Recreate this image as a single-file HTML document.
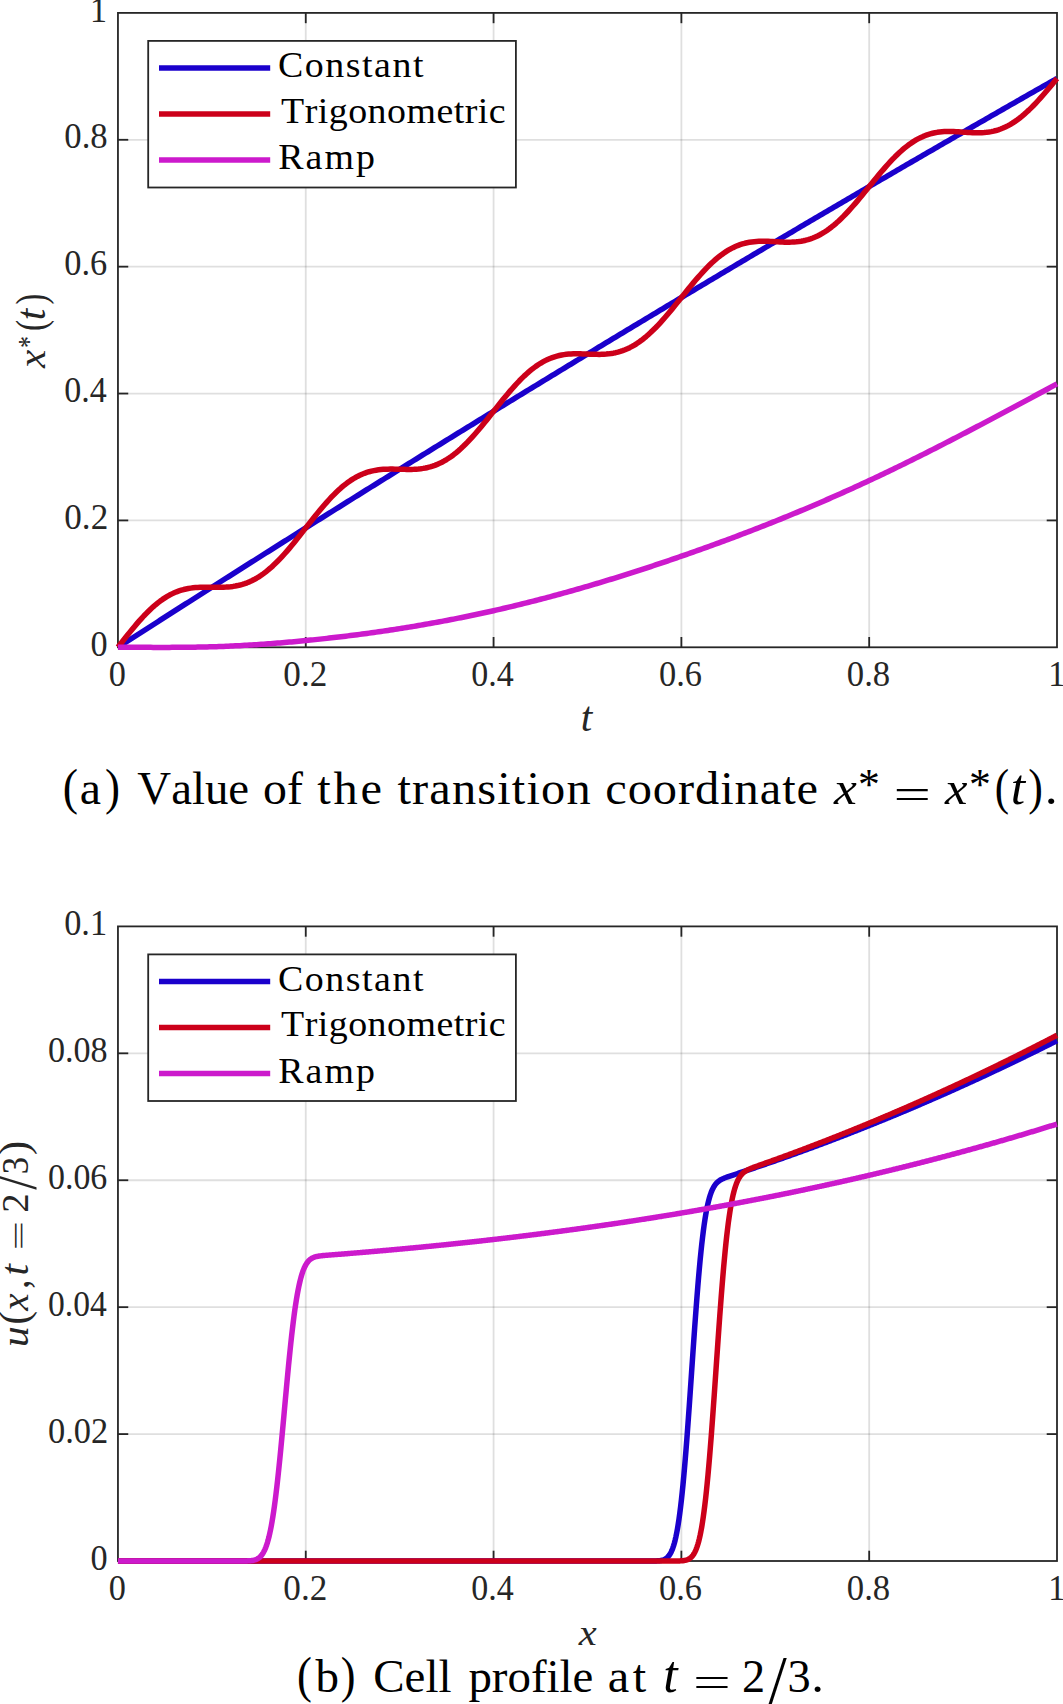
<!DOCTYPE html>
<html lang="en"><head><meta charset="utf-8"><title>Transition coordinate and cell profile</title>
<style>
html,body{margin:0;padding:0;background:#fff;}
body{width:1063px;height:1704px;overflow:hidden;}
svg{display:block;}
text{font-family:"Liberation Serif",serif;font-kerning:none;}
</style></head><body>
<svg width="1063" height="1704" viewBox="0 0 1063 1704">
<rect width="1063" height="1704" fill="#fff"/>

<g stroke="#262626" stroke-opacity="0.15" stroke-width="1.8" fill="none">
<line x1="305.76" y1="12.9" x2="305.76" y2="647.3"/>
<line x1="493.57" y1="12.9" x2="493.57" y2="647.3"/>
<line x1="681.38" y1="12.9" x2="681.38" y2="647.3"/>
<line x1="869.19" y1="12.9" x2="869.19" y2="647.3"/>
<line x1="117.95" y1="520.42" x2="1057.0" y2="520.42"/>
<line x1="117.95" y1="393.54" x2="1057.0" y2="393.54"/>
<line x1="117.95" y1="266.66" x2="1057.0" y2="266.66"/>
<line x1="117.95" y1="139.78" x2="1057.0" y2="139.78"/>
</g>
<g stroke="#262626" stroke-width="1.8" fill="none">
<rect x="117.95" y="12.9" width="939.05" height="634.40"/>
<line x1="305.76" y1="647.3" x2="305.76" y2="637.0"/>
<line x1="305.76" y1="12.9" x2="305.76" y2="23.200000000000003"/>
<line x1="117.95" y1="520.42" x2="128.25" y2="520.42"/>
<line x1="1057.0" y1="520.42" x2="1046.7" y2="520.42"/>
<line x1="493.57" y1="647.3" x2="493.57" y2="637.0"/>
<line x1="493.57" y1="12.9" x2="493.57" y2="23.200000000000003"/>
<line x1="117.95" y1="393.54" x2="128.25" y2="393.54"/>
<line x1="1057.0" y1="393.54" x2="1046.7" y2="393.54"/>
<line x1="681.38" y1="647.3" x2="681.38" y2="637.0"/>
<line x1="681.38" y1="12.9" x2="681.38" y2="23.200000000000003"/>
<line x1="117.95" y1="266.66" x2="128.25" y2="266.66"/>
<line x1="1057.0" y1="266.66" x2="1046.7" y2="266.66"/>
<line x1="869.19" y1="647.3" x2="869.19" y2="637.0"/>
<line x1="869.19" y1="12.9" x2="869.19" y2="23.200000000000003"/>
<line x1="117.95" y1="139.78" x2="128.25" y2="139.78"/>
<line x1="1057.0" y1="139.78" x2="1046.7" y2="139.78"/>
</g>
<g fill="none" stroke-width="5.5" stroke-linejoin="round">
<polyline stroke="#1a00cc" points="117.95,647.30 120.30,645.79 122.65,644.28 124.99,642.77 127.34,641.26 129.69,639.76 132.04,638.25 134.38,636.74 136.73,635.23 139.08,633.73 141.43,632.22 143.77,630.72 146.12,629.21 148.47,627.71 150.82,626.20 153.16,624.70 155.51,623.20 157.86,621.69 160.21,620.19 162.55,618.69 164.90,617.19 167.25,615.69 169.60,614.19 171.95,612.69 174.29,611.19 176.64,609.69 178.99,608.19 181.34,606.69 183.68,605.19 186.03,603.69 188.38,602.20 190.73,600.70 193.07,599.20 195.42,597.71 197.77,596.21 200.12,594.72 202.46,593.22 204.81,591.73 207.16,590.24 209.51,588.74 211.86,587.25 214.20,585.76 216.55,584.27 218.90,582.77 221.25,581.28 223.59,579.79 225.94,578.30 228.29,576.81 230.64,575.32 232.98,573.84 235.33,572.35 237.68,570.86 240.03,569.37 242.37,567.89 244.72,566.40 247.07,564.91 249.42,563.43 251.76,561.94 254.11,560.46 256.46,558.97 258.81,557.49 261.16,556.01 263.50,554.52 265.85,553.04 268.20,551.56 270.55,550.08 272.89,548.59 275.24,547.11 277.59,545.63 279.94,544.15 282.28,542.67 284.63,541.20 286.98,539.72 289.33,538.24 291.67,536.76 294.02,535.28 296.37,533.81 298.72,532.33 301.06,530.85 303.41,529.38 305.76,527.90 308.11,526.43 310.46,524.95 312.80,523.48 315.15,522.01 317.50,520.53 319.85,519.06 322.19,517.59 324.54,516.12 326.89,514.65 329.24,513.18 331.58,511.71 333.93,510.24 336.28,508.77 338.63,507.30 340.97,505.83 343.32,504.36 345.67,502.89 348.02,501.43 350.36,499.96 352.71,498.49 355.06,497.03 357.41,495.56 359.76,494.10 362.10,492.63 364.45,491.17 366.80,489.70 369.15,488.24 371.49,486.78 373.84,485.32 376.19,483.85 378.54,482.39 380.88,480.93 383.23,479.47 385.58,478.01 387.93,476.55 390.27,475.09 392.62,473.63 394.97,472.17 397.32,470.72 399.66,469.26 402.01,467.80 404.36,466.35 406.71,464.89 409.06,463.43 411.40,461.98 413.75,460.52 416.10,459.07 418.45,457.62 420.79,456.16 423.14,454.71 425.49,453.26 427.84,451.80 430.18,450.35 432.53,448.90 434.88,447.45 437.23,446.00 439.57,444.55 441.92,443.10 444.27,441.65 446.62,440.20 448.97,438.75 451.31,437.30 453.66,435.86 456.01,434.41 458.36,432.96 460.70,431.52 463.05,430.07 465.40,428.63 467.75,427.18 470.09,425.74 472.44,424.29 474.79,422.85 477.14,421.41 479.48,419.96 481.83,418.52 484.18,417.08 486.53,415.64 488.87,414.20 491.22,412.76 493.57,411.32 495.92,409.88 498.27,408.44 500.61,407.00 502.96,405.56 505.31,404.13 507.66,402.69 510.00,401.25 512.35,399.81 514.70,398.38 517.05,396.94 519.39,395.51 521.74,394.07 524.09,392.64 526.44,391.21 528.78,389.77 531.13,388.34 533.48,386.91 535.83,385.47 538.17,384.04 540.52,382.61 542.87,381.18 545.22,379.75 547.57,378.32 549.91,376.89 552.26,375.46 554.61,374.03 556.96,372.61 559.30,371.18 561.65,369.75 564.00,368.32 566.35,366.90 568.69,365.47 571.04,364.05 573.39,362.62 575.74,361.20 578.08,359.77 580.43,358.35 582.78,356.93 585.13,355.50 587.48,354.08 589.82,352.66 592.17,351.24 594.52,349.82 596.87,348.40 599.21,346.97 601.56,345.56 603.91,344.14 606.26,342.72 608.60,341.30 610.95,339.88 613.30,338.46 615.65,337.05 617.99,335.63 620.34,334.21 622.69,332.80 625.04,331.38 627.38,329.97 629.73,328.55 632.08,327.14 634.43,325.72 636.78,324.31 639.12,322.90 641.47,321.49 643.82,320.07 646.17,318.66 648.51,317.25 650.86,315.84 653.21,314.43 655.56,313.02 657.90,311.61 660.25,310.20 662.60,308.80 664.95,307.39 667.29,305.98 669.64,304.57 671.99,303.17 674.34,301.76 676.68,300.36 679.03,298.95 681.38,297.55 683.73,296.14 686.08,294.74 688.42,293.33 690.77,291.93 693.12,290.53 695.47,289.13 697.81,287.72 700.16,286.32 702.51,284.92 704.86,283.52 707.20,282.12 709.55,280.72 711.90,279.32 714.25,277.92 716.59,276.53 718.94,275.13 721.29,273.73 723.64,272.33 725.98,270.94 728.33,269.54 730.68,268.15 733.03,266.75 735.38,265.36 737.72,263.96 740.07,262.57 742.42,261.17 744.77,259.78 747.11,258.39 749.46,257.00 751.81,255.61 754.16,254.21 756.50,252.82 758.85,251.43 761.20,250.04 763.55,248.65 765.89,247.26 768.24,245.88 770.59,244.49 772.94,243.10 775.29,241.71 777.63,240.33 779.98,238.94 782.33,237.55 784.68,236.17 787.02,234.78 789.37,233.40 791.72,232.01 794.07,230.63 796.41,229.25 798.76,227.86 801.11,226.48 803.46,225.10 805.80,223.72 808.15,222.34 810.50,220.96 812.85,219.58 815.19,218.20 817.54,216.82 819.89,215.44 822.24,214.06 824.59,212.68 826.93,211.30 829.28,209.93 831.63,208.55 833.98,207.17 836.32,205.80 838.67,204.42 841.02,203.05 843.37,201.67 845.71,200.30 848.06,198.93 850.41,197.55 852.76,196.18 855.10,194.81 857.45,193.44 859.80,192.06 862.15,190.69 864.49,189.32 866.84,187.95 869.19,186.58 871.54,185.21 873.89,183.85 876.23,182.48 878.58,181.11 880.93,179.74 883.28,178.37 885.62,177.01 887.97,175.64 890.32,174.28 892.67,172.91 895.01,171.55 897.36,170.18 899.71,168.82 902.06,167.45 904.40,166.09 906.75,164.73 909.10,163.37 911.45,162.00 913.79,160.64 916.14,159.28 918.49,157.92 920.84,156.56 923.19,155.20 925.53,153.84 927.88,152.48 930.23,151.13 932.58,149.77 934.92,148.41 937.27,147.05 939.62,145.70 941.97,144.34 944.31,142.99 946.66,141.63 949.01,140.28 951.36,138.92 953.70,137.57 956.05,136.21 958.40,134.86 960.75,133.51 963.10,132.16 965.44,130.81 967.79,129.45 970.14,128.10 972.49,126.75 974.83,125.40 977.18,124.05 979.53,122.70 981.88,121.36 984.22,120.01 986.57,118.66 988.92,117.31 991.27,115.97 993.61,114.62 995.96,113.27 998.31,111.93 1000.66,110.58 1003.00,109.24 1005.35,107.89 1007.70,106.55 1010.05,105.21 1012.40,103.86 1014.74,102.52 1017.09,101.18 1019.44,99.84 1021.79,98.50 1024.13,97.16 1026.48,95.82 1028.83,94.48 1031.18,93.14 1033.52,91.80 1035.87,90.46 1038.22,89.12 1040.57,87.78 1042.91,86.45 1045.26,85.11 1047.61,83.77 1049.96,82.44 1052.30,81.10 1054.65,79.77 1057.00,78.43"/>
<polyline stroke="#cc001a" points="117.95,647.30 120.30,644.27 122.65,641.25 124.99,638.25 127.34,635.28 129.69,632.35 132.04,629.46 134.38,626.63 136.73,623.86 139.08,621.16 141.43,618.54 143.77,616.00 146.12,613.56 148.47,611.21 150.82,608.96 153.16,606.82 155.51,604.79 157.86,602.88 160.21,601.08 162.55,599.40 164.90,597.84 167.25,596.40 169.60,595.07 171.95,593.87 174.29,592.78 176.64,591.81 178.99,590.95 181.34,590.19 183.68,589.54 186.03,588.98 188.38,588.51 190.73,588.13 193.07,587.83 195.42,587.60 197.77,587.43 200.12,587.31 202.46,587.24 204.81,587.21 207.16,587.21 209.51,587.22 211.86,587.25 214.20,587.28 216.55,587.29 218.90,587.29 221.25,587.26 223.59,587.20 225.94,587.09 228.29,586.92 230.64,586.70 232.98,586.40 235.33,586.03 237.68,585.57 240.03,585.03 242.37,584.38 244.72,583.64 247.07,582.79 249.42,581.83 251.76,580.76 254.11,579.57 256.46,578.26 258.81,576.84 261.16,575.30 263.50,573.63 265.85,571.85 268.20,569.96 270.55,567.95 272.89,565.84 275.24,563.61 277.59,561.29 279.94,558.87 282.28,556.36 284.63,553.76 286.98,551.09 289.33,548.35 291.67,545.54 294.02,542.69 296.37,539.79 298.72,536.85 301.06,533.88 303.41,530.90 305.76,527.90 308.11,524.91 310.46,521.93 312.80,518.96 315.15,516.03 317.50,513.13 319.85,510.28 322.19,507.48 324.54,504.75 326.89,502.08 329.24,499.49 331.58,496.99 333.93,494.58 336.28,492.27 338.63,490.06 340.97,487.95 343.32,485.96 345.67,484.08 348.02,482.32 350.36,480.67 352.71,479.14 355.06,477.74 357.41,476.45 359.76,475.28 362.10,474.23 364.45,473.29 366.80,472.46 369.15,471.74 371.49,471.12 373.84,470.60 376.19,470.17 378.54,469.83 380.88,469.56 383.23,469.36 385.58,469.23 387.93,469.15 390.27,469.11 392.62,469.12 394.97,469.15 397.32,469.20 399.66,469.26 402.01,469.32 404.36,469.37 406.71,469.41 409.06,469.41 411.40,469.38 413.75,469.31 416.10,469.18 418.45,468.99 420.79,468.73 423.14,468.39 425.49,467.97 427.84,467.46 430.18,466.85 432.53,466.14 434.88,465.33 437.23,464.40 439.57,463.36 441.92,462.21 444.27,460.94 446.62,459.55 448.97,458.04 451.31,456.42 453.66,454.67 456.01,452.81 458.36,450.84 460.70,448.76 463.05,446.57 465.40,444.28 467.75,441.90 470.09,439.42 472.44,436.86 474.79,434.22 477.14,431.52 479.48,428.75 481.83,425.93 484.18,423.06 486.53,420.16 488.87,417.23 491.22,414.28 493.57,411.32 495.92,408.36 498.27,405.41 500.61,402.48 502.96,399.58 505.31,396.72 507.66,393.90 510.00,391.14 512.35,388.44 514.70,385.81 517.05,383.26 519.39,380.79 521.74,378.42 524.09,376.14 526.44,373.96 528.78,371.90 531.13,369.94 533.48,368.09 535.83,366.36 538.17,364.75 540.52,363.26 542.87,361.89 545.22,360.64 547.57,359.51 549.91,358.49 552.26,357.59 554.61,356.79 556.96,356.11 559.30,355.52 561.65,355.04 564.00,354.64 566.35,354.33 568.69,354.10 571.04,353.94 573.39,353.84 575.74,353.79 578.08,353.79 580.43,353.83 582.78,353.90 585.13,353.98 587.48,354.08 589.82,354.18 592.17,354.26 594.52,354.33 596.87,354.37 599.21,354.38 601.56,354.34 603.91,354.25 606.26,354.09 608.60,353.86 610.95,353.56 613.30,353.18 615.65,352.70 617.99,352.13 620.34,351.45 622.69,350.67 625.04,349.78 627.38,348.78 629.73,347.66 632.08,346.43 634.43,345.07 636.78,343.60 639.12,342.01 641.47,340.30 643.82,338.48 646.17,336.54 648.51,334.49 650.86,332.34 653.21,330.09 655.56,327.74 657.90,325.29 660.25,322.77 662.60,320.17 664.95,317.50 667.29,314.76 669.64,311.98 671.99,309.15 674.34,306.28 676.68,303.38 679.03,300.47 681.38,297.55 683.73,294.62 686.08,291.71 688.42,288.82 690.77,285.95 693.12,283.12 695.47,280.34 697.81,277.61 700.16,274.95 702.51,272.36 704.86,269.84 707.20,267.41 709.55,265.07 711.90,262.82 714.25,260.68 716.59,258.65 718.94,256.73 721.29,254.92 723.64,253.22 725.98,251.65 728.33,250.19 730.68,248.86 733.03,247.64 735.38,246.54 737.72,245.56 740.07,244.69 742.42,243.93 744.77,243.28 747.11,242.73 749.46,242.28 751.81,241.92 754.16,241.65 756.50,241.45 758.85,241.32 761.20,241.26 763.55,241.25 765.89,241.29 768.24,241.36 770.59,241.46 772.94,241.58 775.29,241.71 777.63,241.84 779.98,241.97 782.33,242.07 784.68,242.15 787.02,242.19 789.37,242.18 791.72,242.12 794.07,242.00 796.41,241.81 798.76,241.55 801.11,241.20 803.46,240.75 805.80,240.22 808.15,239.58 810.50,238.83 812.85,237.98 815.19,237.01 817.54,235.93 819.89,234.73 822.24,233.41 824.59,231.97 826.93,230.42 829.28,228.74 831.63,226.95 833.98,225.05 836.32,223.04 838.67,220.92 841.02,218.70 843.37,216.39 845.71,213.98 848.06,211.49 850.41,208.93 852.76,206.29 855.10,203.59 857.45,200.84 859.80,198.04 862.15,195.21 864.49,192.35 866.84,189.47 869.19,186.58 871.54,183.70 873.89,180.82 876.23,177.96 878.58,175.13 880.93,172.34 883.28,169.59 885.62,166.90 887.97,164.27 890.32,161.71 892.67,159.23 895.01,156.83 897.36,154.53 899.71,152.32 902.06,150.21 904.40,148.21 906.75,146.33 909.10,144.55 911.45,142.89 913.79,141.35 916.14,139.93 918.49,138.63 920.84,137.45 923.19,136.39 925.53,135.44 927.88,134.61 930.23,133.89 932.58,133.27 934.92,132.76 937.27,132.34 939.62,132.02 941.97,131.78 944.31,131.61 946.66,131.52 949.01,131.49 951.36,131.52 953.70,131.59 956.05,131.70 958.40,131.83 960.75,131.99 963.10,132.16 965.44,132.32 967.79,132.48 970.14,132.62 972.49,132.73 974.83,132.81 977.18,132.84 979.53,132.81 981.88,132.73 984.22,132.57 986.57,132.34 988.92,132.03 991.27,131.62 993.61,131.12 995.96,130.51 998.31,129.80 1000.66,128.99 1003.00,128.05 1005.35,127.01 1007.70,125.84 1010.05,124.56 1012.40,123.15 1014.74,121.63 1017.09,119.99 1019.44,118.24 1021.79,116.37 1024.13,114.40 1026.48,112.31 1028.83,110.13 1031.18,107.85 1033.52,105.48 1035.87,103.03 1038.22,100.50 1040.57,97.89 1042.91,95.23 1045.26,92.52 1047.61,89.75 1049.96,86.96 1052.30,84.13 1054.65,81.29 1057.00,78.43"/>
<polyline stroke="#cc1acc" points="117.95,647.30 120.30,647.30 122.65,647.30 124.99,647.31 127.34,647.31 129.69,647.32 132.04,647.32 134.38,647.33 136.73,647.33 139.08,647.34 141.43,647.35 143.77,647.36 146.12,647.36 148.47,647.37 150.82,647.37 153.16,647.38 155.51,647.38 157.86,647.39 160.21,647.39 162.55,647.39 164.90,647.39 167.25,647.38 169.60,647.38 171.95,647.37 174.29,647.36 176.64,647.35 178.99,647.34 181.34,647.32 183.68,647.30 186.03,647.28 188.38,647.26 190.73,647.23 193.07,647.20 195.42,647.16 197.77,647.12 200.12,647.08 202.46,647.03 204.81,646.98 207.16,646.92 209.51,646.86 211.86,646.79 214.20,646.72 216.55,646.65 218.90,646.57 221.25,646.48 223.59,646.39 225.94,646.30 228.29,646.20 230.64,646.09 232.98,645.98 235.33,645.87 237.68,645.75 240.03,645.63 242.37,645.50 244.72,645.37 247.07,645.24 249.42,645.10 251.76,644.95 254.11,644.81 256.46,644.65 258.81,644.50 261.16,644.34 263.50,644.17 265.85,644.00 268.20,643.83 270.55,643.66 272.89,643.48 275.24,643.29 277.59,643.10 279.94,642.91 282.28,642.72 284.63,642.52 286.98,642.32 289.33,642.11 291.67,641.90 294.02,641.69 296.37,641.47 298.72,641.25 301.06,641.03 303.41,640.80 305.76,640.58 308.11,640.34 310.46,640.11 312.80,639.87 315.15,639.63 317.50,639.38 319.85,639.13 322.19,638.88 324.54,638.62 326.89,638.36 329.24,638.10 331.58,637.84 333.93,637.57 336.28,637.30 338.63,637.02 340.97,636.74 343.32,636.46 345.67,636.17 348.02,635.88 350.36,635.59 352.71,635.29 355.06,634.99 357.41,634.69 359.76,634.38 362.10,634.07 364.45,633.76 366.80,633.44 369.15,633.12 371.49,632.80 373.84,632.47 376.19,632.14 378.54,631.80 380.88,631.46 383.23,631.12 385.58,630.78 387.93,630.43 390.27,630.07 392.62,629.72 394.97,629.36 397.32,628.99 399.66,628.62 402.01,628.25 404.36,627.88 406.71,627.50 409.06,627.11 411.40,626.73 413.75,626.34 416.10,625.94 418.45,625.54 420.79,625.14 423.14,624.73 425.49,624.32 427.84,623.91 430.18,623.49 432.53,623.07 434.88,622.65 437.23,622.22 439.57,621.78 441.92,621.35 444.27,620.90 446.62,620.46 448.97,620.01 451.31,619.56 453.66,619.10 456.01,618.64 458.36,618.17 460.70,617.70 463.05,617.23 465.40,616.75 467.75,616.27 470.09,615.78 472.44,615.29 474.79,614.80 477.14,614.30 479.48,613.80 481.83,613.29 484.18,612.78 486.53,612.27 488.87,611.75 491.22,611.22 493.57,610.70 495.92,610.16 498.27,609.63 500.61,609.09 502.96,608.54 505.31,607.99 507.66,607.44 510.00,606.88 512.35,606.32 514.70,605.76 517.05,605.19 519.39,604.61 521.74,604.03 524.09,603.45 526.44,602.87 528.78,602.28 531.13,601.68 533.48,601.09 535.83,600.48 538.17,599.88 540.52,599.27 542.87,598.66 545.22,598.04 547.57,597.42 549.91,596.79 552.26,596.16 554.61,595.53 556.96,594.89 559.30,594.25 561.65,593.61 564.00,592.96 566.35,592.31 568.69,591.66 571.04,591.00 573.39,590.33 575.74,589.67 578.08,589.00 580.43,588.32 582.78,587.65 585.13,586.97 587.48,586.28 589.82,585.60 592.17,584.90 594.52,584.21 596.87,583.51 599.21,582.81 601.56,582.10 603.91,581.40 606.26,580.68 608.60,579.97 610.95,579.25 613.30,578.53 615.65,577.80 617.99,577.07 620.34,576.34 622.69,575.61 625.04,574.87 627.38,574.12 629.73,573.38 632.08,572.63 634.43,571.88 636.78,571.12 639.12,570.37 641.47,569.60 643.82,568.84 646.17,568.07 648.51,567.30 650.86,566.53 653.21,565.75 655.56,564.97 657.90,564.19 660.25,563.40 662.60,562.62 664.95,561.82 667.29,561.03 669.64,560.23 671.99,559.43 674.34,558.63 676.68,557.82 679.03,557.01 681.38,556.20 683.73,555.39 686.08,554.57 688.42,553.75 690.77,552.92 693.12,552.10 695.47,551.27 697.81,550.44 700.16,549.60 702.51,548.76 704.86,547.92 707.20,547.08 709.55,546.23 711.90,545.38 714.25,544.53 716.59,543.67 718.94,542.81 721.29,541.95 723.64,541.08 725.98,540.21 728.33,539.34 730.68,538.47 733.03,537.59 735.38,536.71 737.72,535.82 740.07,534.93 742.42,534.04 744.77,533.15 747.11,532.25 749.46,531.35 751.81,530.45 754.16,529.54 756.50,528.63 758.85,527.71 761.20,526.79 763.55,525.87 765.89,524.95 768.24,524.02 770.59,523.09 772.94,522.15 775.29,521.21 777.63,520.27 779.98,519.33 782.33,518.38 784.68,517.42 787.02,516.47 789.37,515.51 791.72,514.54 794.07,513.57 796.41,512.60 798.76,511.63 801.11,510.65 803.46,509.67 805.80,508.68 808.15,507.69 810.50,506.70 812.85,505.70 815.19,504.70 817.54,503.69 819.89,502.69 822.24,501.67 824.59,500.66 826.93,499.64 829.28,498.61 831.63,497.58 833.98,496.55 836.32,495.51 838.67,494.47 841.02,493.43 843.37,492.38 845.71,491.33 848.06,490.27 850.41,489.21 852.76,488.15 855.10,487.08 857.45,486.01 859.80,484.93 862.15,483.85 864.49,482.76 866.84,481.67 869.19,480.58 871.54,479.48 873.89,478.38 876.23,477.27 878.58,476.16 880.93,475.05 883.28,473.93 885.62,472.81 887.97,471.68 890.32,470.55 892.67,469.42 895.01,468.28 897.36,467.14 899.71,466.00 902.06,464.85 904.40,463.70 906.75,462.54 909.10,461.38 911.45,460.22 913.79,459.06 916.14,457.89 918.49,456.72 920.84,455.54 923.19,454.37 925.53,453.19 927.88,452.00 930.23,450.82 932.58,449.63 934.92,448.43 937.27,447.24 939.62,446.04 941.97,444.84 944.31,443.64 946.66,442.43 949.01,441.23 951.36,440.02 953.70,438.80 956.05,437.59 958.40,436.37 960.75,435.15 963.10,433.93 965.44,432.71 967.79,431.48 970.14,430.25 972.49,429.02 974.83,427.79 977.18,426.56 979.53,425.32 981.88,424.09 984.22,422.85 986.57,421.61 988.92,420.36 991.27,419.12 993.61,417.88 995.96,416.63 998.31,415.38 1000.66,414.13 1003.00,412.88 1005.35,411.63 1007.70,410.38 1010.05,409.13 1012.40,407.87 1014.74,406.61 1017.09,405.36 1019.44,404.10 1021.79,402.84 1024.13,401.58 1026.48,400.32 1028.83,399.06 1031.18,397.80 1033.52,396.54 1035.87,395.27 1038.22,394.01 1040.57,392.75 1042.91,391.48 1045.26,390.22 1047.61,388.96 1049.96,387.69 1052.30,386.43 1054.65,385.16 1057.00,383.90"/>
</g>
<rect x="148.2" y="40.90" width="367.70" height="146.6" fill="#fff" stroke="#262626" stroke-width="1.8"/>
<line x1="159" y1="68.10" x2="270.2" y2="68.10" stroke="#1a00cc" stroke-width="5.5"/>
<line x1="159" y1="113.95" x2="270.2" y2="113.95" stroke="#cc001a" stroke-width="5.5"/>
<line x1="159" y1="160.00" x2="270.2" y2="160.00" stroke="#cc1acc" stroke-width="5.5"/>
<g stroke="#262626" stroke-opacity="0.15" stroke-width="1.8" fill="none">
<line x1="305.76" y1="926.4" x2="305.76" y2="1561.0"/>
<line x1="493.57" y1="926.4" x2="493.57" y2="1561.0"/>
<line x1="681.38" y1="926.4" x2="681.38" y2="1561.0"/>
<line x1="869.19" y1="926.4" x2="869.19" y2="1561.0"/>
<line x1="117.95" y1="1434.08" x2="1057.0" y2="1434.08"/>
<line x1="117.95" y1="1307.16" x2="1057.0" y2="1307.16"/>
<line x1="117.95" y1="1180.24" x2="1057.0" y2="1180.24"/>
<line x1="117.95" y1="1053.32" x2="1057.0" y2="1053.32"/>
</g>
<g stroke="#262626" stroke-width="1.8" fill="none">
<rect x="117.95" y="926.4" width="939.05" height="634.60"/>
<line x1="305.76" y1="1561.0" x2="305.76" y2="1550.7"/>
<line x1="305.76" y1="926.4" x2="305.76" y2="936.6999999999999"/>
<line x1="117.95" y1="1434.08" x2="128.25" y2="1434.08"/>
<line x1="1057.0" y1="1434.08" x2="1046.7" y2="1434.08"/>
<line x1="493.57" y1="1561.0" x2="493.57" y2="1550.7"/>
<line x1="493.57" y1="926.4" x2="493.57" y2="936.6999999999999"/>
<line x1="117.95" y1="1307.16" x2="128.25" y2="1307.16"/>
<line x1="1057.0" y1="1307.16" x2="1046.7" y2="1307.16"/>
<line x1="681.38" y1="1561.0" x2="681.38" y2="1550.7"/>
<line x1="681.38" y1="926.4" x2="681.38" y2="936.6999999999999"/>
<line x1="117.95" y1="1180.24" x2="128.25" y2="1180.24"/>
<line x1="1057.0" y1="1180.24" x2="1046.7" y2="1180.24"/>
<line x1="869.19" y1="1561.0" x2="869.19" y2="1550.7"/>
<line x1="869.19" y1="926.4" x2="869.19" y2="936.6999999999999"/>
<line x1="117.95" y1="1053.32" x2="128.25" y2="1053.32"/>
<line x1="1057.0" y1="1053.32" x2="1046.7" y2="1053.32"/>
</g>
<g fill="none" stroke-width="5.5" stroke-linejoin="round">
<polyline stroke="#1a00cc" points="117.95,1561.00 118.73,1561.00 119.52,1561.00 120.30,1561.00 121.08,1561.00 121.86,1561.00 122.65,1561.00 123.43,1561.00 124.21,1561.00 124.99,1561.00 125.78,1561.00 126.56,1561.00 127.34,1561.00 128.12,1561.00 128.91,1561.00 129.69,1561.00 130.47,1561.00 131.25,1561.00 132.04,1561.00 132.82,1561.00 133.60,1561.00 134.38,1561.00 135.17,1561.00 135.95,1561.00 136.73,1561.00 137.51,1561.00 138.30,1561.00 139.08,1561.00 139.86,1561.00 140.64,1561.00 141.43,1561.00 142.21,1561.00 142.99,1561.00 143.77,1561.00 144.56,1561.00 145.34,1561.00 146.12,1561.00 146.90,1561.00 147.69,1561.00 148.47,1561.00 149.25,1561.00 150.03,1561.00 150.82,1561.00 151.60,1561.00 152.38,1561.00 153.16,1561.00 153.95,1561.00 154.73,1561.00 155.51,1561.00 156.29,1561.00 157.08,1561.00 157.86,1561.00 158.64,1561.00 159.42,1561.00 160.21,1561.00 160.99,1561.00 161.77,1561.00 162.55,1561.00 163.34,1561.00 164.12,1561.00 164.90,1561.00 165.69,1561.00 166.47,1561.00 167.25,1561.00 168.03,1561.00 168.82,1561.00 169.60,1561.00 170.38,1561.00 171.16,1561.00 171.95,1561.00 172.73,1561.00 173.51,1561.00 174.29,1561.00 175.08,1561.00 175.86,1561.00 176.64,1561.00 177.42,1561.00 178.21,1561.00 178.99,1561.00 179.77,1561.00 180.55,1561.00 181.34,1561.00 182.12,1561.00 182.90,1561.00 183.68,1561.00 184.47,1561.00 185.25,1561.00 186.03,1561.00 186.81,1561.00 187.60,1561.00 188.38,1561.00 189.16,1561.00 189.94,1561.00 190.73,1561.00 191.51,1561.00 192.29,1561.00 193.07,1561.00 193.86,1561.00 194.64,1561.00 195.42,1561.00 196.20,1561.00 196.99,1561.00 197.77,1561.00 198.55,1561.00 199.33,1561.00 200.12,1561.00 200.90,1561.00 201.68,1561.00 202.46,1561.00 203.25,1561.00 204.03,1561.00 204.81,1561.00 205.59,1561.00 206.38,1561.00 207.16,1561.00 207.94,1561.00 208.72,1561.00 209.51,1561.00 210.29,1561.00 211.07,1561.00 211.86,1561.00 212.64,1561.00 213.42,1561.00 214.20,1561.00 214.99,1561.00 215.77,1561.00 216.55,1561.00 217.33,1561.00 218.12,1561.00 218.90,1561.00 219.68,1561.00 220.46,1561.00 221.25,1561.00 222.03,1561.00 222.81,1561.00 223.59,1561.00 224.38,1561.00 225.16,1561.00 225.94,1561.00 226.72,1561.00 227.51,1561.00 228.29,1561.00 229.07,1561.00 229.85,1561.00 230.64,1561.00 231.42,1561.00 232.20,1561.00 232.98,1561.00 233.77,1561.00 234.55,1561.00 235.33,1561.00 236.11,1561.00 236.90,1561.00 237.68,1561.00 238.46,1561.00 239.24,1561.00 240.03,1561.00 240.81,1561.00 241.59,1561.00 242.37,1561.00 243.16,1561.00 243.94,1561.00 244.72,1561.00 245.50,1561.00 246.29,1561.00 247.07,1561.00 247.85,1561.00 248.63,1561.00 249.42,1561.00 250.20,1561.00 250.98,1561.00 251.76,1561.00 252.55,1561.00 253.33,1561.00 254.11,1561.00 254.89,1561.00 255.68,1561.00 256.46,1561.00 257.24,1561.00 258.02,1561.00 258.81,1561.00 259.59,1561.00 260.37,1561.00 261.16,1561.00 261.94,1561.00 262.72,1561.00 263.50,1561.00 264.29,1561.00 265.07,1561.00 265.85,1561.00 266.63,1561.00 267.42,1561.00 268.20,1561.00 268.98,1561.00 269.76,1561.00 270.55,1561.00 271.33,1561.00 272.11,1561.00 272.89,1561.00 273.68,1561.00 274.46,1561.00 275.24,1561.00 276.02,1561.00 276.81,1561.00 277.59,1561.00 278.37,1561.00 279.15,1561.00 279.94,1561.00 280.72,1561.00 281.50,1561.00 282.28,1561.00 283.07,1561.00 283.85,1561.00 284.63,1561.00 285.41,1561.00 286.20,1561.00 286.98,1561.00 287.76,1561.00 288.54,1561.00 289.33,1561.00 290.11,1561.00 290.89,1561.00 291.67,1561.00 292.46,1561.00 293.24,1561.00 294.02,1561.00 294.80,1561.00 295.59,1561.00 296.37,1561.00 297.15,1561.00 297.93,1561.00 298.72,1561.00 299.50,1561.00 300.28,1561.00 301.06,1561.00 301.85,1561.00 302.63,1561.00 303.41,1561.00 304.19,1561.00 304.98,1561.00 305.76,1561.00 306.54,1561.00 307.33,1561.00 308.11,1561.00 308.89,1561.00 309.67,1561.00 310.46,1561.00 311.24,1561.00 312.02,1561.00 312.80,1561.00 313.59,1561.00 314.37,1561.00 315.15,1561.00 315.93,1561.00 316.72,1561.00 317.50,1561.00 318.28,1561.00 319.06,1561.00 319.85,1561.00 320.63,1561.00 321.41,1561.00 322.19,1561.00 322.98,1561.00 323.76,1561.00 324.54,1561.00 325.32,1561.00 326.11,1561.00 326.89,1561.00 327.67,1561.00 328.45,1561.00 329.24,1561.00 330.02,1561.00 330.80,1561.00 331.58,1561.00 332.37,1561.00 333.15,1561.00 333.93,1561.00 334.71,1561.00 335.50,1561.00 336.28,1561.00 337.06,1561.00 337.84,1561.00 338.63,1561.00 339.41,1561.00 340.19,1561.00 340.97,1561.00 341.76,1561.00 342.54,1561.00 343.32,1561.00 344.10,1561.00 344.89,1561.00 345.67,1561.00 346.45,1561.00 347.23,1561.00 348.02,1561.00 348.80,1561.00 349.58,1561.00 350.36,1561.00 351.15,1561.00 351.93,1561.00 352.71,1561.00 353.50,1561.00 354.28,1561.00 355.06,1561.00 355.84,1561.00 356.63,1561.00 357.41,1561.00 358.19,1561.00 358.97,1561.00 359.76,1561.00 360.54,1561.00 361.32,1561.00 362.10,1561.00 362.89,1561.00 363.67,1561.00 364.45,1561.00 365.23,1561.00 366.02,1561.00 366.80,1561.00 367.58,1561.00 368.36,1561.00 369.15,1561.00 369.93,1561.00 370.71,1561.00 371.49,1561.00 372.28,1561.00 373.06,1561.00 373.84,1561.00 374.62,1561.00 375.41,1561.00 376.19,1561.00 376.97,1561.00 377.75,1561.00 378.54,1561.00 379.32,1561.00 380.10,1561.00 380.88,1561.00 381.67,1561.00 382.45,1561.00 383.23,1561.00 384.01,1561.00 384.80,1561.00 385.58,1561.00 386.36,1561.00 387.14,1561.00 387.93,1561.00 388.71,1561.00 389.49,1561.00 390.27,1561.00 391.06,1561.00 391.84,1561.00 392.62,1561.00 393.40,1561.00 394.19,1561.00 394.97,1561.00 395.75,1561.00 396.53,1561.00 397.32,1561.00 398.10,1561.00 398.88,1561.00 399.67,1561.00 400.45,1561.00 401.23,1561.00 402.01,1561.00 402.80,1561.00 403.58,1561.00 404.36,1561.00 405.14,1561.00 405.93,1561.00 406.71,1561.00 407.49,1561.00 408.27,1561.00 409.06,1561.00 409.84,1561.00 410.62,1561.00 411.40,1561.00 412.19,1561.00 412.97,1561.00 413.75,1561.00 414.53,1561.00 415.32,1561.00 416.10,1561.00 416.88,1561.00 417.66,1561.00 418.45,1561.00 419.23,1561.00 420.01,1561.00 420.79,1561.00 421.58,1561.00 422.36,1561.00 423.14,1561.00 423.92,1561.00 424.71,1561.00 425.49,1561.00 426.27,1561.00 427.05,1561.00 427.84,1561.00 428.62,1561.00 429.40,1561.00 430.18,1561.00 430.97,1561.00 431.75,1561.00 432.53,1561.00 433.31,1561.00 434.10,1561.00 434.88,1561.00 435.66,1561.00 436.44,1561.00 437.23,1561.00 438.01,1561.00 438.79,1561.00 439.57,1561.00 440.36,1561.00 441.14,1561.00 441.92,1561.00 442.70,1561.00 443.49,1561.00 444.27,1561.00 445.05,1561.00 445.83,1561.00 446.62,1561.00 447.40,1561.00 448.18,1561.00 448.97,1561.00 449.75,1561.00 450.53,1561.00 451.31,1561.00 452.10,1561.00 452.88,1561.00 453.66,1561.00 454.44,1561.00 455.23,1561.00 456.01,1561.00 456.79,1561.00 457.57,1561.00 458.36,1561.00 459.14,1561.00 459.92,1561.00 460.70,1561.00 461.49,1561.00 462.27,1561.00 463.05,1561.00 463.83,1561.00 464.62,1561.00 465.40,1561.00 466.18,1561.00 466.96,1561.00 467.75,1561.00 468.53,1561.00 469.31,1561.00 470.09,1561.00 470.88,1561.00 471.66,1561.00 472.44,1561.00 473.22,1561.00 474.01,1561.00 474.79,1561.00 475.57,1561.00 476.35,1561.00 477.14,1561.00 477.92,1561.00 478.70,1561.00 479.48,1561.00 480.27,1561.00 481.05,1561.00 481.83,1561.00 482.61,1561.00 483.40,1561.00 484.18,1561.00 484.96,1561.00 485.74,1561.00 486.53,1561.00 487.31,1561.00 488.09,1561.00 488.87,1561.00 489.66,1561.00 490.44,1561.00 491.22,1561.00 492.00,1561.00 492.79,1561.00 493.57,1561.00 494.35,1561.00 495.14,1561.00 495.92,1561.00 496.70,1561.00 497.48,1561.00 498.27,1561.00 499.05,1561.00 499.83,1561.00 500.61,1561.00 501.40,1561.00 502.18,1561.00 502.96,1561.00 503.74,1561.00 504.53,1561.00 505.31,1561.00 506.09,1561.00 506.87,1561.00 507.66,1561.00 508.44,1561.00 509.22,1561.00 510.00,1561.00 510.79,1561.00 511.57,1561.00 512.35,1561.00 513.13,1561.00 513.92,1561.00 514.70,1561.00 515.48,1561.00 516.26,1561.00 517.05,1561.00 517.83,1561.00 518.61,1561.00 519.39,1561.00 520.18,1561.00 520.96,1561.00 521.74,1561.00 522.52,1561.00 523.31,1561.00 524.09,1561.00 524.87,1561.00 525.65,1561.00 526.44,1561.00 527.22,1561.00 528.00,1561.00 528.78,1561.00 529.57,1561.00 530.35,1561.00 531.13,1561.00 531.91,1561.00 532.70,1561.00 533.48,1561.00 534.26,1561.00 535.04,1561.00 535.83,1561.00 536.61,1561.00 537.39,1561.00 538.17,1561.00 538.96,1561.00 539.74,1561.00 540.52,1561.00 541.31,1561.00 542.09,1561.00 542.87,1561.00 543.65,1561.00 544.44,1561.00 545.22,1561.00 546.00,1561.00 546.78,1561.00 547.57,1561.00 548.35,1561.00 549.13,1561.00 549.91,1561.00 550.70,1561.00 551.48,1561.00 552.26,1561.00 553.04,1561.00 553.83,1561.00 554.61,1561.00 555.39,1561.00 556.17,1561.00 556.96,1561.00 557.74,1561.00 558.52,1561.00 559.30,1561.00 560.09,1561.00 560.87,1561.00 561.65,1561.00 562.43,1561.00 563.22,1561.00 564.00,1561.00 564.78,1561.00 565.56,1561.00 566.35,1561.00 567.13,1561.00 567.91,1561.00 568.69,1561.00 569.48,1561.00 570.26,1561.00 571.04,1561.00 571.82,1561.00 572.61,1561.00 573.39,1561.00 574.17,1561.00 574.95,1561.00 575.74,1561.00 576.52,1561.00 577.30,1561.00 578.08,1561.00 578.87,1561.00 579.65,1561.00 580.43,1561.00 581.21,1561.00 582.00,1561.00 582.78,1561.00 583.56,1561.00 584.34,1561.00 585.13,1561.00 585.91,1561.00 586.69,1561.00 587.48,1561.00 588.26,1561.00 589.04,1561.00 589.82,1561.00 590.61,1561.00 591.39,1561.00 592.17,1561.00 592.95,1561.00 593.74,1561.00 594.52,1561.00 595.30,1561.00 596.08,1561.00 596.87,1561.00 597.65,1561.00 598.43,1561.00 599.21,1561.00 600.00,1561.00 600.78,1561.00 601.56,1561.00 602.34,1561.00 603.13,1561.00 603.91,1561.00 604.69,1561.00 605.47,1561.00 606.26,1561.00 607.04,1561.00 607.82,1561.00 608.60,1561.00 609.39,1561.00 610.17,1561.00 610.95,1561.00 611.73,1561.00 612.52,1561.00 613.30,1561.00 614.08,1561.00 614.86,1561.00 615.65,1561.00 616.43,1561.00 617.21,1561.00 617.99,1561.00 618.78,1561.00 619.56,1561.00 620.34,1561.00 621.12,1561.00 621.91,1561.00 622.69,1561.00 623.47,1561.00 624.25,1561.00 625.04,1561.00 625.82,1561.00 626.60,1561.00 627.38,1561.00 628.17,1561.00 628.95,1561.00 629.73,1561.00 630.51,1561.00 631.30,1561.00 632.08,1561.00 632.86,1561.00 633.64,1561.00 634.43,1561.00 635.21,1561.00 635.99,1561.00 636.78,1561.00 637.56,1561.00 638.34,1561.00 639.12,1561.00 639.91,1561.00 640.69,1561.00 641.47,1561.00 642.25,1561.00 643.04,1561.00 643.82,1561.00 644.60,1561.00 645.38,1561.00 646.17,1561.00 646.95,1561.00 647.73,1561.00 648.51,1560.99 649.30,1560.99 650.08,1560.99 650.86,1560.99 651.64,1560.98 652.43,1560.97 653.21,1560.96 653.99,1560.95 654.77,1560.93 655.56,1560.91 656.34,1560.88 657.12,1560.84 657.90,1560.80 658.69,1560.73 659.47,1560.65 660.25,1560.55 661.03,1560.43 661.82,1560.27 662.60,1560.07 663.38,1559.83 664.16,1559.53 664.95,1559.16 665.73,1558.71 666.51,1558.17 667.29,1557.52 668.08,1556.74 668.86,1555.81 669.64,1554.72 670.42,1553.43 671.21,1551.93 671.99,1550.18 672.77,1548.16 673.55,1545.84 674.34,1543.20 675.12,1540.19 675.90,1536.80 676.68,1532.99 677.47,1528.74 678.25,1524.03 679.03,1518.83 679.81,1513.12 680.60,1506.90 681.38,1500.16 682.16,1492.89 682.95,1485.10 683.73,1476.80 684.51,1468.01 685.29,1458.75 686.08,1449.05 686.86,1438.94 687.64,1428.48 688.42,1417.71 689.21,1406.69 689.99,1395.48 690.77,1384.13 691.55,1372.71 692.34,1361.29 693.12,1349.92 693.90,1338.69 694.68,1327.64 695.47,1316.83 696.25,1306.33 697.03,1296.17 697.81,1286.41 698.60,1277.07 699.38,1268.20 700.16,1259.81 700.94,1251.92 701.73,1244.54 702.51,1237.69 703.29,1231.34 704.07,1225.50 704.86,1220.16 705.64,1215.29 706.42,1210.88 707.20,1206.91 707.99,1203.34 708.77,1200.15 709.55,1197.32 710.33,1194.80 711.12,1192.58 711.90,1190.63 712.68,1188.91 713.46,1187.41 714.25,1186.09 715.03,1184.94 715.81,1183.93 716.59,1183.05 717.38,1182.27 718.16,1181.59 718.94,1180.98 719.72,1180.44 720.51,1179.95 721.29,1179.51 722.07,1179.11 722.85,1178.74 723.64,1178.39 724.42,1178.06 725.20,1177.75 725.98,1177.45 726.77,1177.16 727.55,1176.88 728.33,1176.61 729.12,1176.34 729.90,1176.08 730.68,1175.81 731.46,1175.55 732.25,1175.29 733.03,1175.03 733.81,1174.78 734.59,1174.52 735.38,1174.26 736.16,1174.01 736.94,1173.75 737.72,1173.49 738.51,1173.24 739.29,1172.98 740.07,1172.72 740.85,1172.46 741.64,1172.20 742.42,1171.95 743.20,1171.69 743.98,1171.43 744.77,1171.17 745.55,1170.91 746.33,1170.65 747.11,1170.39 747.90,1170.13 748.68,1169.87 749.46,1169.60 750.24,1169.34 751.03,1169.08 751.81,1168.82 752.59,1168.56 753.37,1168.29 754.16,1168.03 754.94,1167.77 755.72,1167.50 756.50,1167.24 757.29,1166.97 758.07,1166.71 758.85,1166.44 759.63,1166.18 760.42,1165.91 761.20,1165.64 761.98,1165.38 762.76,1165.11 763.55,1164.84 764.33,1164.57 765.11,1164.30 765.89,1164.04 766.68,1163.77 767.46,1163.50 768.24,1163.23 769.02,1162.96 769.81,1162.69 770.59,1162.42 771.37,1162.15 772.15,1161.88 772.94,1161.60 773.72,1161.33 774.50,1161.06 775.29,1160.79 776.07,1160.51 776.85,1160.24 777.63,1159.97 778.42,1159.69 779.20,1159.42 779.98,1159.14 780.76,1158.87 781.55,1158.59 782.33,1158.32 783.11,1158.04 783.89,1157.77 784.68,1157.49 785.46,1157.21 786.24,1156.93 787.02,1156.66 787.81,1156.38 788.59,1156.10 789.37,1155.82 790.15,1155.54 790.94,1155.26 791.72,1154.98 792.50,1154.70 793.28,1154.42 794.07,1154.14 794.85,1153.86 795.63,1153.58 796.41,1153.30 797.20,1153.02 797.98,1152.73 798.76,1152.45 799.54,1152.17 800.33,1151.88 801.11,1151.60 801.89,1151.32 802.67,1151.03 803.46,1150.75 804.24,1150.46 805.02,1150.18 805.80,1149.89 806.59,1149.60 807.37,1149.32 808.15,1149.03 808.93,1148.74 809.72,1148.46 810.50,1148.17 811.28,1147.88 812.06,1147.59 812.85,1147.30 813.63,1147.01 814.41,1146.72 815.19,1146.43 815.98,1146.14 816.76,1145.85 817.54,1145.56 818.32,1145.27 819.11,1144.98 819.89,1144.69 820.67,1144.40 821.45,1144.10 822.24,1143.81 823.02,1143.52 823.80,1143.22 824.59,1142.93 825.37,1142.63 826.15,1142.34 826.93,1142.05 827.72,1141.75 828.50,1141.45 829.28,1141.16 830.06,1140.86 830.85,1140.57 831.63,1140.27 832.41,1139.97 833.19,1139.67 833.98,1139.38 834.76,1139.08 835.54,1138.78 836.32,1138.48 837.11,1138.18 837.89,1137.88 838.67,1137.58 839.45,1137.28 840.24,1136.98 841.02,1136.68 841.80,1136.38 842.58,1136.07 843.37,1135.77 844.15,1135.47 844.93,1135.17 845.71,1134.86 846.50,1134.56 847.28,1134.26 848.06,1133.95 848.84,1133.65 849.63,1133.34 850.41,1133.04 851.19,1132.73 851.97,1132.43 852.76,1132.12 853.54,1131.81 854.32,1131.51 855.10,1131.20 855.89,1130.89 856.67,1130.59 857.45,1130.28 858.23,1129.97 859.02,1129.66 859.80,1129.35 860.58,1129.04 861.36,1128.73 862.15,1128.42 862.93,1128.11 863.71,1127.80 864.49,1127.49 865.28,1127.18 866.06,1126.86 866.84,1126.55 867.62,1126.24 868.41,1125.93 869.19,1125.61 869.97,1125.30 870.76,1124.99 871.54,1124.67 872.32,1124.36 873.10,1124.04 873.89,1123.73 874.67,1123.41 875.45,1123.10 876.23,1122.78 877.02,1122.46 877.80,1122.15 878.58,1121.83 879.36,1121.51 880.15,1121.19 880.93,1120.87 881.71,1120.56 882.49,1120.24 883.28,1119.92 884.06,1119.60 884.84,1119.28 885.62,1118.96 886.41,1118.64 887.19,1118.32 887.97,1117.99 888.75,1117.67 889.54,1117.35 890.32,1117.03 891.10,1116.71 891.88,1116.38 892.67,1116.06 893.45,1115.73 894.23,1115.41 895.01,1115.09 895.80,1114.76 896.58,1114.44 897.36,1114.11 898.14,1113.79 898.93,1113.46 899.71,1113.13 900.49,1112.81 901.27,1112.48 902.06,1112.15 902.84,1111.82 903.62,1111.50 904.40,1111.17 905.19,1110.84 905.97,1110.51 906.75,1110.18 907.53,1109.85 908.32,1109.52 909.10,1109.19 909.88,1108.86 910.66,1108.53 911.45,1108.19 912.23,1107.86 913.01,1107.53 913.79,1107.20 914.58,1106.87 915.36,1106.53 916.14,1106.20 916.93,1105.86 917.71,1105.53 918.49,1105.20 919.27,1104.86 920.06,1104.53 920.84,1104.19 921.62,1103.85 922.40,1103.52 923.19,1103.18 923.97,1102.84 924.75,1102.51 925.53,1102.17 926.32,1101.83 927.10,1101.49 927.88,1101.15 928.66,1100.82 929.45,1100.48 930.23,1100.14 931.01,1099.80 931.79,1099.46 932.58,1099.11 933.36,1098.77 934.14,1098.43 934.92,1098.09 935.71,1097.75 936.49,1097.41 937.27,1097.06 938.05,1096.72 938.84,1096.38 939.62,1096.03 940.40,1095.69 941.18,1095.34 941.97,1095.00 942.75,1094.66 943.53,1094.31 944.31,1093.96 945.10,1093.62 945.88,1093.27 946.66,1092.92 947.44,1092.58 948.23,1092.23 949.01,1091.88 949.79,1091.53 950.57,1091.19 951.36,1090.84 952.14,1090.49 952.92,1090.14 953.70,1089.79 954.49,1089.44 955.27,1089.09 956.05,1088.74 956.83,1088.39 957.62,1088.03 958.40,1087.68 959.18,1087.33 959.96,1086.98 960.75,1086.62 961.53,1086.27 962.31,1085.92 963.10,1085.56 963.88,1085.21 964.66,1084.85 965.44,1084.50 966.23,1084.14 967.01,1083.79 967.79,1083.43 968.57,1083.08 969.36,1082.72 970.14,1082.36 970.92,1082.01 971.70,1081.65 972.49,1081.29 973.27,1080.93 974.05,1080.57 974.83,1080.21 975.62,1079.86 976.40,1079.50 977.18,1079.14 977.96,1078.78 978.75,1078.41 979.53,1078.05 980.31,1077.69 981.09,1077.33 981.88,1076.97 982.66,1076.61 983.44,1076.24 984.22,1075.88 985.01,1075.52 985.79,1075.15 986.57,1074.79 987.35,1074.42 988.14,1074.06 988.92,1073.70 989.70,1073.33 990.48,1072.96 991.27,1072.60 992.05,1072.23 992.83,1071.86 993.61,1071.50 994.40,1071.13 995.18,1070.76 995.96,1070.39 996.74,1070.03 997.53,1069.66 998.31,1069.29 999.09,1068.92 999.87,1068.55 1000.66,1068.18 1001.44,1067.81 1002.22,1067.44 1003.00,1067.07 1003.79,1066.69 1004.57,1066.32 1005.35,1065.95 1006.13,1065.58 1006.92,1065.20 1007.70,1064.83 1008.48,1064.46 1009.26,1064.08 1010.05,1063.71 1010.83,1063.34 1011.61,1062.96 1012.40,1062.59 1013.18,1062.21 1013.96,1061.83 1014.74,1061.46 1015.53,1061.08 1016.31,1060.70 1017.09,1060.33 1017.87,1059.95 1018.66,1059.57 1019.44,1059.19 1020.22,1058.81 1021.00,1058.44 1021.79,1058.06 1022.57,1057.68 1023.35,1057.30 1024.13,1056.92 1024.92,1056.54 1025.70,1056.15 1026.48,1055.77 1027.26,1055.39 1028.05,1055.01 1028.83,1054.63 1029.61,1054.24 1030.39,1053.86 1031.18,1053.48 1031.96,1053.09 1032.74,1052.71 1033.52,1052.33 1034.31,1051.94 1035.09,1051.56 1035.87,1051.17 1036.65,1050.78 1037.44,1050.40 1038.22,1050.01 1039.00,1049.63 1039.78,1049.24 1040.57,1048.85 1041.35,1048.46 1042.13,1048.08 1042.91,1047.69 1043.70,1047.30 1044.48,1046.91 1045.26,1046.52 1046.04,1046.13 1046.83,1045.74 1047.61,1045.35 1048.39,1044.96 1049.17,1044.57 1049.96,1044.18 1050.74,1043.78 1051.52,1043.39 1052.30,1043.00 1053.09,1042.61 1053.87,1042.21 1054.65,1041.82 1055.43,1041.43 1056.22,1041.03 1057.00,1040.64"/>
<polyline stroke="#cc001a" points="117.95,1561.00 118.73,1561.00 119.52,1561.00 120.30,1561.00 121.08,1561.00 121.86,1561.00 122.65,1561.00 123.43,1561.00 124.21,1561.00 124.99,1561.00 125.78,1561.00 126.56,1561.00 127.34,1561.00 128.12,1561.00 128.91,1561.00 129.69,1561.00 130.47,1561.00 131.25,1561.00 132.04,1561.00 132.82,1561.00 133.60,1561.00 134.38,1561.00 135.17,1561.00 135.95,1561.00 136.73,1561.00 137.51,1561.00 138.30,1561.00 139.08,1561.00 139.86,1561.00 140.64,1561.00 141.43,1561.00 142.21,1561.00 142.99,1561.00 143.77,1561.00 144.56,1561.00 145.34,1561.00 146.12,1561.00 146.90,1561.00 147.69,1561.00 148.47,1561.00 149.25,1561.00 150.03,1561.00 150.82,1561.00 151.60,1561.00 152.38,1561.00 153.16,1561.00 153.95,1561.00 154.73,1561.00 155.51,1561.00 156.29,1561.00 157.08,1561.00 157.86,1561.00 158.64,1561.00 159.42,1561.00 160.21,1561.00 160.99,1561.00 161.77,1561.00 162.55,1561.00 163.34,1561.00 164.12,1561.00 164.90,1561.00 165.69,1561.00 166.47,1561.00 167.25,1561.00 168.03,1561.00 168.82,1561.00 169.60,1561.00 170.38,1561.00 171.16,1561.00 171.95,1561.00 172.73,1561.00 173.51,1561.00 174.29,1561.00 175.08,1561.00 175.86,1561.00 176.64,1561.00 177.42,1561.00 178.21,1561.00 178.99,1561.00 179.77,1561.00 180.55,1561.00 181.34,1561.00 182.12,1561.00 182.90,1561.00 183.68,1561.00 184.47,1561.00 185.25,1561.00 186.03,1561.00 186.81,1561.00 187.60,1561.00 188.38,1561.00 189.16,1561.00 189.94,1561.00 190.73,1561.00 191.51,1561.00 192.29,1561.00 193.07,1561.00 193.86,1561.00 194.64,1561.00 195.42,1561.00 196.20,1561.00 196.99,1561.00 197.77,1561.00 198.55,1561.00 199.33,1561.00 200.12,1561.00 200.90,1561.00 201.68,1561.00 202.46,1561.00 203.25,1561.00 204.03,1561.00 204.81,1561.00 205.59,1561.00 206.38,1561.00 207.16,1561.00 207.94,1561.00 208.72,1561.00 209.51,1561.00 210.29,1561.00 211.07,1561.00 211.86,1561.00 212.64,1561.00 213.42,1561.00 214.20,1561.00 214.99,1561.00 215.77,1561.00 216.55,1561.00 217.33,1561.00 218.12,1561.00 218.90,1561.00 219.68,1561.00 220.46,1561.00 221.25,1561.00 222.03,1561.00 222.81,1561.00 223.59,1561.00 224.38,1561.00 225.16,1561.00 225.94,1561.00 226.72,1561.00 227.51,1561.00 228.29,1561.00 229.07,1561.00 229.85,1561.00 230.64,1561.00 231.42,1561.00 232.20,1561.00 232.98,1561.00 233.77,1561.00 234.55,1561.00 235.33,1561.00 236.11,1561.00 236.90,1561.00 237.68,1561.00 238.46,1561.00 239.24,1561.00 240.03,1561.00 240.81,1561.00 241.59,1561.00 242.37,1561.00 243.16,1561.00 243.94,1561.00 244.72,1561.00 245.50,1561.00 246.29,1561.00 247.07,1561.00 247.85,1561.00 248.63,1561.00 249.42,1561.00 250.20,1561.00 250.98,1561.00 251.76,1561.00 252.55,1561.00 253.33,1561.00 254.11,1561.00 254.89,1561.00 255.68,1561.00 256.46,1561.00 257.24,1561.00 258.02,1561.00 258.81,1561.00 259.59,1561.00 260.37,1561.00 261.16,1561.00 261.94,1561.00 262.72,1561.00 263.50,1561.00 264.29,1561.00 265.07,1561.00 265.85,1561.00 266.63,1561.00 267.42,1561.00 268.20,1561.00 268.98,1561.00 269.76,1561.00 270.55,1561.00 271.33,1561.00 272.11,1561.00 272.89,1561.00 273.68,1561.00 274.46,1561.00 275.24,1561.00 276.02,1561.00 276.81,1561.00 277.59,1561.00 278.37,1561.00 279.15,1561.00 279.94,1561.00 280.72,1561.00 281.50,1561.00 282.28,1561.00 283.07,1561.00 283.85,1561.00 284.63,1561.00 285.41,1561.00 286.20,1561.00 286.98,1561.00 287.76,1561.00 288.54,1561.00 289.33,1561.00 290.11,1561.00 290.89,1561.00 291.67,1561.00 292.46,1561.00 293.24,1561.00 294.02,1561.00 294.80,1561.00 295.59,1561.00 296.37,1561.00 297.15,1561.00 297.93,1561.00 298.72,1561.00 299.50,1561.00 300.28,1561.00 301.06,1561.00 301.85,1561.00 302.63,1561.00 303.41,1561.00 304.19,1561.00 304.98,1561.00 305.76,1561.00 306.54,1561.00 307.33,1561.00 308.11,1561.00 308.89,1561.00 309.67,1561.00 310.46,1561.00 311.24,1561.00 312.02,1561.00 312.80,1561.00 313.59,1561.00 314.37,1561.00 315.15,1561.00 315.93,1561.00 316.72,1561.00 317.50,1561.00 318.28,1561.00 319.06,1561.00 319.85,1561.00 320.63,1561.00 321.41,1561.00 322.19,1561.00 322.98,1561.00 323.76,1561.00 324.54,1561.00 325.32,1561.00 326.11,1561.00 326.89,1561.00 327.67,1561.00 328.45,1561.00 329.24,1561.00 330.02,1561.00 330.80,1561.00 331.58,1561.00 332.37,1561.00 333.15,1561.00 333.93,1561.00 334.71,1561.00 335.50,1561.00 336.28,1561.00 337.06,1561.00 337.84,1561.00 338.63,1561.00 339.41,1561.00 340.19,1561.00 340.97,1561.00 341.76,1561.00 342.54,1561.00 343.32,1561.00 344.10,1561.00 344.89,1561.00 345.67,1561.00 346.45,1561.00 347.23,1561.00 348.02,1561.00 348.80,1561.00 349.58,1561.00 350.36,1561.00 351.15,1561.00 351.93,1561.00 352.71,1561.00 353.50,1561.00 354.28,1561.00 355.06,1561.00 355.84,1561.00 356.63,1561.00 357.41,1561.00 358.19,1561.00 358.97,1561.00 359.76,1561.00 360.54,1561.00 361.32,1561.00 362.10,1561.00 362.89,1561.00 363.67,1561.00 364.45,1561.00 365.23,1561.00 366.02,1561.00 366.80,1561.00 367.58,1561.00 368.36,1561.00 369.15,1561.00 369.93,1561.00 370.71,1561.00 371.49,1561.00 372.28,1561.00 373.06,1561.00 373.84,1561.00 374.62,1561.00 375.41,1561.00 376.19,1561.00 376.97,1561.00 377.75,1561.00 378.54,1561.00 379.32,1561.00 380.10,1561.00 380.88,1561.00 381.67,1561.00 382.45,1561.00 383.23,1561.00 384.01,1561.00 384.80,1561.00 385.58,1561.00 386.36,1561.00 387.14,1561.00 387.93,1561.00 388.71,1561.00 389.49,1561.00 390.27,1561.00 391.06,1561.00 391.84,1561.00 392.62,1561.00 393.40,1561.00 394.19,1561.00 394.97,1561.00 395.75,1561.00 396.53,1561.00 397.32,1561.00 398.10,1561.00 398.88,1561.00 399.67,1561.00 400.45,1561.00 401.23,1561.00 402.01,1561.00 402.80,1561.00 403.58,1561.00 404.36,1561.00 405.14,1561.00 405.93,1561.00 406.71,1561.00 407.49,1561.00 408.27,1561.00 409.06,1561.00 409.84,1561.00 410.62,1561.00 411.40,1561.00 412.19,1561.00 412.97,1561.00 413.75,1561.00 414.53,1561.00 415.32,1561.00 416.10,1561.00 416.88,1561.00 417.66,1561.00 418.45,1561.00 419.23,1561.00 420.01,1561.00 420.79,1561.00 421.58,1561.00 422.36,1561.00 423.14,1561.00 423.92,1561.00 424.71,1561.00 425.49,1561.00 426.27,1561.00 427.05,1561.00 427.84,1561.00 428.62,1561.00 429.40,1561.00 430.18,1561.00 430.97,1561.00 431.75,1561.00 432.53,1561.00 433.31,1561.00 434.10,1561.00 434.88,1561.00 435.66,1561.00 436.44,1561.00 437.23,1561.00 438.01,1561.00 438.79,1561.00 439.57,1561.00 440.36,1561.00 441.14,1561.00 441.92,1561.00 442.70,1561.00 443.49,1561.00 444.27,1561.00 445.05,1561.00 445.83,1561.00 446.62,1561.00 447.40,1561.00 448.18,1561.00 448.97,1561.00 449.75,1561.00 450.53,1561.00 451.31,1561.00 452.10,1561.00 452.88,1561.00 453.66,1561.00 454.44,1561.00 455.23,1561.00 456.01,1561.00 456.79,1561.00 457.57,1561.00 458.36,1561.00 459.14,1561.00 459.92,1561.00 460.70,1561.00 461.49,1561.00 462.27,1561.00 463.05,1561.00 463.83,1561.00 464.62,1561.00 465.40,1561.00 466.18,1561.00 466.96,1561.00 467.75,1561.00 468.53,1561.00 469.31,1561.00 470.09,1561.00 470.88,1561.00 471.66,1561.00 472.44,1561.00 473.22,1561.00 474.01,1561.00 474.79,1561.00 475.57,1561.00 476.35,1561.00 477.14,1561.00 477.92,1561.00 478.70,1561.00 479.48,1561.00 480.27,1561.00 481.05,1561.00 481.83,1561.00 482.61,1561.00 483.40,1561.00 484.18,1561.00 484.96,1561.00 485.74,1561.00 486.53,1561.00 487.31,1561.00 488.09,1561.00 488.87,1561.00 489.66,1561.00 490.44,1561.00 491.22,1561.00 492.00,1561.00 492.79,1561.00 493.57,1561.00 494.35,1561.00 495.14,1561.00 495.92,1561.00 496.70,1561.00 497.48,1561.00 498.27,1561.00 499.05,1561.00 499.83,1561.00 500.61,1561.00 501.40,1561.00 502.18,1561.00 502.96,1561.00 503.74,1561.00 504.53,1561.00 505.31,1561.00 506.09,1561.00 506.87,1561.00 507.66,1561.00 508.44,1561.00 509.22,1561.00 510.00,1561.00 510.79,1561.00 511.57,1561.00 512.35,1561.00 513.13,1561.00 513.92,1561.00 514.70,1561.00 515.48,1561.00 516.26,1561.00 517.05,1561.00 517.83,1561.00 518.61,1561.00 519.39,1561.00 520.18,1561.00 520.96,1561.00 521.74,1561.00 522.52,1561.00 523.31,1561.00 524.09,1561.00 524.87,1561.00 525.65,1561.00 526.44,1561.00 527.22,1561.00 528.00,1561.00 528.78,1561.00 529.57,1561.00 530.35,1561.00 531.13,1561.00 531.91,1561.00 532.70,1561.00 533.48,1561.00 534.26,1561.00 535.04,1561.00 535.83,1561.00 536.61,1561.00 537.39,1561.00 538.17,1561.00 538.96,1561.00 539.74,1561.00 540.52,1561.00 541.31,1561.00 542.09,1561.00 542.87,1561.00 543.65,1561.00 544.44,1561.00 545.22,1561.00 546.00,1561.00 546.78,1561.00 547.57,1561.00 548.35,1561.00 549.13,1561.00 549.91,1561.00 550.70,1561.00 551.48,1561.00 552.26,1561.00 553.04,1561.00 553.83,1561.00 554.61,1561.00 555.39,1561.00 556.17,1561.00 556.96,1561.00 557.74,1561.00 558.52,1561.00 559.30,1561.00 560.09,1561.00 560.87,1561.00 561.65,1561.00 562.43,1561.00 563.22,1561.00 564.00,1561.00 564.78,1561.00 565.56,1561.00 566.35,1561.00 567.13,1561.00 567.91,1561.00 568.69,1561.00 569.48,1561.00 570.26,1561.00 571.04,1561.00 571.82,1561.00 572.61,1561.00 573.39,1561.00 574.17,1561.00 574.95,1561.00 575.74,1561.00 576.52,1561.00 577.30,1561.00 578.08,1561.00 578.87,1561.00 579.65,1561.00 580.43,1561.00 581.21,1561.00 582.00,1561.00 582.78,1561.00 583.56,1561.00 584.34,1561.00 585.13,1561.00 585.91,1561.00 586.69,1561.00 587.48,1561.00 588.26,1561.00 589.04,1561.00 589.82,1561.00 590.61,1561.00 591.39,1561.00 592.17,1561.00 592.95,1561.00 593.74,1561.00 594.52,1561.00 595.30,1561.00 596.08,1561.00 596.87,1561.00 597.65,1561.00 598.43,1561.00 599.21,1561.00 600.00,1561.00 600.78,1561.00 601.56,1561.00 602.34,1561.00 603.13,1561.00 603.91,1561.00 604.69,1561.00 605.47,1561.00 606.26,1561.00 607.04,1561.00 607.82,1561.00 608.60,1561.00 609.39,1561.00 610.17,1561.00 610.95,1561.00 611.73,1561.00 612.52,1561.00 613.30,1561.00 614.08,1561.00 614.86,1561.00 615.65,1561.00 616.43,1561.00 617.21,1561.00 617.99,1561.00 618.78,1561.00 619.56,1561.00 620.34,1561.00 621.12,1561.00 621.91,1561.00 622.69,1561.00 623.47,1561.00 624.25,1561.00 625.04,1561.00 625.82,1561.00 626.60,1561.00 627.38,1561.00 628.17,1561.00 628.95,1561.00 629.73,1561.00 630.51,1561.00 631.30,1561.00 632.08,1561.00 632.86,1561.00 633.64,1561.00 634.43,1561.00 635.21,1561.00 635.99,1561.00 636.78,1561.00 637.56,1561.00 638.34,1561.00 639.12,1561.00 639.91,1561.00 640.69,1561.00 641.47,1561.00 642.25,1561.00 643.04,1561.00 643.82,1561.00 644.60,1561.00 645.38,1561.00 646.17,1561.00 646.95,1561.00 647.73,1561.00 648.51,1561.00 649.30,1561.00 650.08,1561.00 650.86,1561.00 651.64,1561.00 652.43,1561.00 653.21,1561.00 653.99,1561.00 654.77,1561.00 655.56,1561.00 656.34,1561.00 657.12,1561.00 657.90,1561.00 658.69,1561.00 659.47,1561.00 660.25,1561.00 661.03,1561.00 661.82,1561.00 662.60,1561.00 663.38,1561.00 664.16,1561.00 664.95,1561.00 665.73,1561.00 666.51,1561.00 667.29,1561.00 668.08,1561.00 668.86,1561.00 669.64,1561.00 670.42,1561.00 671.21,1561.00 671.99,1560.99 672.77,1560.99 673.55,1560.99 674.34,1560.98 675.12,1560.98 675.90,1560.97 676.68,1560.96 677.47,1560.95 678.25,1560.93 679.03,1560.91 679.81,1560.88 680.60,1560.84 681.38,1560.79 682.16,1560.73 682.95,1560.65 683.73,1560.55 684.51,1560.43 685.29,1560.27 686.08,1560.08 686.86,1559.85 687.64,1559.56 688.42,1559.21 689.21,1558.79 689.99,1558.28 690.77,1557.67 691.55,1556.95 692.34,1556.09 693.12,1555.07 693.90,1553.88 694.68,1552.50 695.47,1550.89 696.25,1549.04 697.03,1546.91 697.81,1544.49 698.60,1541.74 699.38,1538.63 700.16,1535.15 700.94,1531.25 701.73,1526.93 702.51,1522.16 703.29,1516.92 704.07,1511.19 704.86,1504.97 705.64,1498.24 706.42,1491.01 707.20,1483.28 707.99,1475.06 708.77,1466.36 709.55,1457.22 710.33,1447.65 711.12,1437.69 711.90,1427.38 712.68,1416.77 713.46,1405.90 714.25,1394.83 715.03,1383.62 715.81,1372.32 716.59,1361.00 717.38,1349.71 718.16,1338.52 718.94,1327.48 719.72,1316.65 720.51,1306.09 721.29,1295.83 722.07,1285.93 722.85,1276.42 723.64,1267.33 724.42,1258.70 725.20,1250.53 725.98,1242.85 726.77,1235.66 727.55,1228.96 728.33,1222.76 729.12,1217.04 729.90,1211.80 730.68,1207.00 731.46,1202.65 732.25,1198.71 733.03,1195.15 733.81,1191.97 734.59,1189.12 735.38,1186.58 736.16,1184.33 736.94,1182.33 737.72,1180.57 738.51,1179.01 739.29,1177.64 740.07,1176.44 740.85,1175.38 741.64,1174.44 742.42,1173.61 743.20,1172.88 743.98,1172.22 744.77,1171.63 745.55,1171.10 746.33,1170.62 747.11,1170.18 747.90,1169.77 748.68,1169.39 749.46,1169.03 750.24,1168.68 751.03,1168.36 751.81,1168.04 752.59,1167.73 753.37,1167.43 754.16,1167.14 754.94,1166.85 755.72,1166.57 756.50,1166.28 757.29,1166.00 758.07,1165.72 758.85,1165.44 759.63,1165.16 760.42,1164.88 761.20,1164.61 761.98,1164.33 762.76,1164.05 763.55,1163.77 764.33,1163.49 765.11,1163.22 765.89,1162.94 766.68,1162.66 767.46,1162.38 768.24,1162.10 769.02,1161.82 769.81,1161.54 770.59,1161.26 771.37,1160.98 772.15,1160.70 772.94,1160.41 773.72,1160.13 774.50,1159.85 775.29,1159.57 776.07,1159.28 776.85,1159.00 777.63,1158.72 778.42,1158.43 779.20,1158.15 779.98,1157.86 780.76,1157.58 781.55,1157.29 782.33,1157.01 783.11,1156.72 783.89,1156.44 784.68,1156.15 785.46,1155.86 786.24,1155.57 787.02,1155.29 787.81,1155.00 788.59,1154.71 789.37,1154.42 790.15,1154.13 790.94,1153.84 791.72,1153.55 792.50,1153.26 793.28,1152.97 794.07,1152.68 794.85,1152.39 795.63,1152.10 796.41,1151.80 797.20,1151.51 797.98,1151.22 798.76,1150.93 799.54,1150.63 800.33,1150.34 801.11,1150.04 801.89,1149.75 802.67,1149.46 803.46,1149.16 804.24,1148.86 805.02,1148.57 805.80,1148.27 806.59,1147.98 807.37,1147.68 808.15,1147.38 808.93,1147.08 809.72,1146.79 810.50,1146.49 811.28,1146.19 812.06,1145.89 812.85,1145.59 813.63,1145.29 814.41,1144.99 815.19,1144.69 815.98,1144.39 816.76,1144.09 817.54,1143.79 818.32,1143.49 819.11,1143.18 819.89,1142.88 820.67,1142.58 821.45,1142.28 822.24,1141.97 823.02,1141.67 823.80,1141.36 824.59,1141.06 825.37,1140.75 826.15,1140.45 826.93,1140.14 827.72,1139.84 828.50,1139.53 829.28,1139.22 830.06,1138.92 830.85,1138.61 831.63,1138.30 832.41,1137.99 833.19,1137.69 833.98,1137.38 834.76,1137.07 835.54,1136.76 836.32,1136.45 837.11,1136.14 837.89,1135.83 838.67,1135.52 839.45,1135.21 840.24,1134.90 841.02,1134.58 841.80,1134.27 842.58,1133.96 843.37,1133.65 844.15,1133.33 844.93,1133.02 845.71,1132.71 846.50,1132.39 847.28,1132.08 848.06,1131.76 848.84,1131.45 849.63,1131.13 850.41,1130.81 851.19,1130.50 851.97,1130.18 852.76,1129.86 853.54,1129.55 854.32,1129.23 855.10,1128.91 855.89,1128.59 856.67,1128.27 857.45,1127.95 858.23,1127.64 859.02,1127.32 859.80,1127.00 860.58,1126.67 861.36,1126.35 862.15,1126.03 862.93,1125.71 863.71,1125.39 864.49,1125.07 865.28,1124.74 866.06,1124.42 866.84,1124.10 867.62,1123.77 868.41,1123.45 869.19,1123.13 869.97,1122.80 870.76,1122.48 871.54,1122.15 872.32,1121.83 873.10,1121.50 873.89,1121.17 874.67,1120.85 875.45,1120.52 876.23,1120.19 877.02,1119.86 877.80,1119.54 878.58,1119.21 879.36,1118.88 880.15,1118.55 880.93,1118.22 881.71,1117.89 882.49,1117.56 883.28,1117.23 884.06,1116.90 884.84,1116.57 885.62,1116.23 886.41,1115.90 887.19,1115.57 887.97,1115.24 888.75,1114.90 889.54,1114.57 890.32,1114.24 891.10,1113.90 891.88,1113.57 892.67,1113.23 893.45,1112.90 894.23,1112.56 895.01,1112.23 895.80,1111.89 896.58,1111.55 897.36,1111.22 898.14,1110.88 898.93,1110.54 899.71,1110.21 900.49,1109.87 901.27,1109.53 902.06,1109.19 902.84,1108.85 903.62,1108.51 904.40,1108.17 905.19,1107.83 905.97,1107.49 906.75,1107.15 907.53,1106.81 908.32,1106.47 909.10,1106.12 909.88,1105.78 910.66,1105.44 911.45,1105.10 912.23,1104.75 913.01,1104.41 913.79,1104.06 914.58,1103.72 915.36,1103.37 916.14,1103.03 916.93,1102.68 917.71,1102.34 918.49,1101.99 919.27,1101.64 920.06,1101.30 920.84,1100.95 921.62,1100.60 922.40,1100.26 923.19,1099.91 923.97,1099.56 924.75,1099.21 925.53,1098.86 926.32,1098.51 927.10,1098.16 927.88,1097.81 928.66,1097.46 929.45,1097.11 930.23,1096.76 931.01,1096.40 931.79,1096.05 932.58,1095.70 933.36,1095.35 934.14,1094.99 934.92,1094.64 935.71,1094.29 936.49,1093.93 937.27,1093.58 938.05,1093.22 938.84,1092.87 939.62,1092.51 940.40,1092.16 941.18,1091.80 941.97,1091.44 942.75,1091.09 943.53,1090.73 944.31,1090.37 945.10,1090.01 945.88,1089.65 946.66,1089.30 947.44,1088.94 948.23,1088.58 949.01,1088.22 949.79,1087.86 950.57,1087.50 951.36,1087.14 952.14,1086.77 952.92,1086.41 953.70,1086.05 954.49,1085.69 955.27,1085.33 956.05,1084.96 956.83,1084.60 957.62,1084.24 958.40,1083.87 959.18,1083.51 959.96,1083.14 960.75,1082.78 961.53,1082.41 962.31,1082.05 963.10,1081.68 963.88,1081.32 964.66,1080.95 965.44,1080.58 966.23,1080.21 967.01,1079.85 967.79,1079.48 968.57,1079.11 969.36,1078.74 970.14,1078.37 970.92,1078.00 971.70,1077.63 972.49,1077.26 973.27,1076.89 974.05,1076.52 974.83,1076.15 975.62,1075.78 976.40,1075.41 977.18,1075.03 977.96,1074.66 978.75,1074.29 979.53,1073.91 980.31,1073.54 981.09,1073.17 981.88,1072.79 982.66,1072.42 983.44,1072.04 984.22,1071.67 985.01,1071.29 985.79,1070.92 986.57,1070.54 987.35,1070.16 988.14,1069.78 988.92,1069.41 989.70,1069.03 990.48,1068.65 991.27,1068.27 992.05,1067.89 992.83,1067.51 993.61,1067.13 994.40,1066.75 995.18,1066.37 995.96,1065.99 996.74,1065.61 997.53,1065.23 998.31,1064.85 999.09,1064.47 999.87,1064.09 1000.66,1063.70 1001.44,1063.32 1002.22,1062.94 1003.00,1062.55 1003.79,1062.17 1004.57,1061.78 1005.35,1061.40 1006.13,1061.01 1006.92,1060.63 1007.70,1060.24 1008.48,1059.86 1009.26,1059.47 1010.05,1059.08 1010.83,1058.70 1011.61,1058.31 1012.40,1057.92 1013.18,1057.53 1013.96,1057.14 1014.74,1056.75 1015.53,1056.37 1016.31,1055.98 1017.09,1055.59 1017.87,1055.20 1018.66,1054.80 1019.44,1054.41 1020.22,1054.02 1021.00,1053.63 1021.79,1053.24 1022.57,1052.85 1023.35,1052.45 1024.13,1052.06 1024.92,1051.67 1025.70,1051.27 1026.48,1050.88 1027.26,1050.48 1028.05,1050.09 1028.83,1049.69 1029.61,1049.30 1030.39,1048.90 1031.18,1048.51 1031.96,1048.11 1032.74,1047.71 1033.52,1047.31 1034.31,1046.92 1035.09,1046.52 1035.87,1046.12 1036.65,1045.72 1037.44,1045.32 1038.22,1044.92 1039.00,1044.52 1039.78,1044.12 1040.57,1043.72 1041.35,1043.32 1042.13,1042.92 1042.91,1042.52 1043.70,1042.12 1044.48,1041.72 1045.26,1041.31 1046.04,1040.91 1046.83,1040.51 1047.61,1040.10 1048.39,1039.70 1049.17,1039.30 1049.96,1038.89 1050.74,1038.49 1051.52,1038.08 1052.30,1037.68 1053.09,1037.27 1053.87,1036.86 1054.65,1036.46 1055.43,1036.05 1056.22,1035.64 1057.00,1035.23"/>
<polyline stroke="#cc1acc" points="117.95,1561.00 118.73,1561.00 119.52,1561.00 120.30,1561.00 121.08,1561.00 121.86,1561.00 122.65,1561.00 123.43,1561.00 124.21,1561.00 124.99,1561.00 125.78,1561.00 126.56,1561.00 127.34,1561.00 128.12,1561.00 128.91,1561.00 129.69,1561.00 130.47,1561.00 131.25,1561.00 132.04,1561.00 132.82,1561.00 133.60,1561.00 134.38,1561.00 135.17,1561.00 135.95,1561.00 136.73,1561.00 137.51,1561.00 138.30,1561.00 139.08,1561.00 139.86,1561.00 140.64,1561.00 141.43,1561.00 142.21,1561.00 142.99,1561.00 143.77,1561.00 144.56,1561.00 145.34,1561.00 146.12,1561.00 146.90,1561.00 147.69,1561.00 148.47,1561.00 149.25,1561.00 150.03,1561.00 150.82,1561.00 151.60,1561.00 152.38,1561.00 153.16,1561.00 153.95,1561.00 154.73,1561.00 155.51,1561.00 156.29,1561.00 157.08,1561.00 157.86,1561.00 158.64,1561.00 159.42,1561.00 160.21,1561.00 160.99,1561.00 161.77,1561.00 162.55,1561.00 163.34,1561.00 164.12,1561.00 164.90,1561.00 165.69,1561.00 166.47,1561.00 167.25,1561.00 168.03,1561.00 168.82,1561.00 169.60,1561.00 170.38,1561.00 171.16,1561.00 171.95,1561.00 172.73,1561.00 173.51,1561.00 174.29,1561.00 175.08,1561.00 175.86,1561.00 176.64,1561.00 177.42,1561.00 178.21,1561.00 178.99,1561.00 179.77,1561.00 180.55,1561.00 181.34,1561.00 182.12,1561.00 182.90,1561.00 183.68,1561.00 184.47,1561.00 185.25,1561.00 186.03,1561.00 186.81,1561.00 187.60,1561.00 188.38,1561.00 189.16,1561.00 189.94,1561.00 190.73,1561.00 191.51,1561.00 192.29,1561.00 193.07,1561.00 193.86,1561.00 194.64,1561.00 195.42,1561.00 196.20,1561.00 196.99,1561.00 197.77,1561.00 198.55,1561.00 199.33,1561.00 200.12,1561.00 200.90,1561.00 201.68,1561.00 202.46,1561.00 203.25,1561.00 204.03,1561.00 204.81,1561.00 205.59,1561.00 206.38,1561.00 207.16,1561.00 207.94,1561.00 208.72,1561.00 209.51,1561.00 210.29,1561.00 211.07,1561.00 211.86,1561.00 212.64,1561.00 213.42,1561.00 214.20,1561.00 214.99,1561.00 215.77,1561.00 216.55,1561.00 217.33,1561.00 218.12,1561.00 218.90,1561.00 219.68,1561.00 220.46,1561.00 221.25,1561.00 222.03,1561.00 222.81,1561.00 223.59,1561.00 224.38,1561.00 225.16,1561.00 225.94,1561.00 226.72,1561.00 227.51,1561.00 228.29,1561.00 229.07,1561.00 229.85,1561.00 230.64,1561.00 231.42,1561.00 232.20,1561.00 232.98,1561.00 233.77,1561.00 234.55,1561.00 235.33,1561.00 236.11,1561.00 236.90,1561.00 237.68,1561.00 238.46,1561.00 239.24,1560.99 240.03,1560.99 240.81,1560.99 241.59,1560.98 242.37,1560.98 243.16,1560.97 243.94,1560.96 244.72,1560.95 245.50,1560.94 246.29,1560.92 247.07,1560.90 247.85,1560.86 248.63,1560.83 249.42,1560.78 250.20,1560.72 250.98,1560.64 251.76,1560.54 252.55,1560.43 253.33,1560.28 254.11,1560.11 254.89,1559.90 255.68,1559.64 256.46,1559.33 257.24,1558.95 258.02,1558.51 258.81,1557.98 259.59,1557.36 260.37,1556.64 261.16,1555.79 261.94,1554.80 262.72,1553.66 263.50,1552.34 264.29,1550.84 265.07,1549.13 265.85,1547.19 266.63,1545.00 267.42,1542.54 268.20,1539.81 268.98,1536.76 269.76,1533.40 270.55,1529.71 271.33,1525.67 272.11,1521.27 272.89,1516.51 273.68,1511.38 274.46,1505.88 275.24,1500.01 276.02,1493.78 276.81,1487.20 277.59,1480.30 278.37,1473.07 279.15,1465.56 279.94,1457.78 280.72,1449.78 281.50,1441.58 282.28,1433.21 283.07,1424.73 283.85,1416.17 284.63,1407.57 285.41,1398.98 286.20,1390.45 286.98,1382.00 287.76,1373.69 288.54,1365.54 289.33,1357.61 290.11,1349.92 290.89,1342.50 291.67,1335.38 292.46,1328.58 293.24,1322.11 294.02,1316.00 294.80,1310.24 295.59,1304.86 296.37,1299.84 297.15,1295.19 297.93,1290.89 298.72,1286.95 299.50,1283.35 300.28,1280.08 301.06,1277.11 301.85,1274.45 302.63,1272.05 303.41,1269.92 304.19,1268.02 304.98,1266.35 305.76,1264.87 306.54,1263.57 307.33,1262.44 308.11,1261.46 308.89,1260.61 309.67,1259.87 310.46,1259.23 311.24,1258.69 312.02,1258.22 312.80,1257.81 313.59,1257.47 314.37,1257.17 315.15,1256.92 315.93,1256.70 316.72,1256.51 317.50,1256.35 318.28,1256.20 319.06,1256.07 319.85,1255.96 320.63,1255.86 321.41,1255.76 322.19,1255.68 322.98,1255.59 323.76,1255.52 324.54,1255.45 325.32,1255.38 326.11,1255.31 326.89,1255.24 327.67,1255.18 328.45,1255.12 329.24,1255.05 330.02,1254.99 330.80,1254.93 331.58,1254.87 332.37,1254.81 333.15,1254.75 333.93,1254.69 334.71,1254.63 335.50,1254.57 336.28,1254.50 337.06,1254.44 337.84,1254.38 338.63,1254.32 339.41,1254.26 340.19,1254.20 340.97,1254.14 341.76,1254.07 342.54,1254.01 343.32,1253.95 344.10,1253.89 344.89,1253.82 345.67,1253.76 346.45,1253.70 347.23,1253.64 348.02,1253.57 348.80,1253.51 349.58,1253.45 350.36,1253.38 351.15,1253.32 351.93,1253.26 352.71,1253.19 353.50,1253.13 354.28,1253.07 355.06,1253.00 355.84,1252.94 356.63,1252.87 357.41,1252.81 358.19,1252.75 358.97,1252.68 359.76,1252.62 360.54,1252.55 361.32,1252.49 362.10,1252.42 362.89,1252.36 363.67,1252.29 364.45,1252.22 365.23,1252.16 366.02,1252.09 366.80,1252.03 367.58,1251.96 368.36,1251.89 369.15,1251.83 369.93,1251.76 370.71,1251.69 371.49,1251.63 372.28,1251.56 373.06,1251.49 373.84,1251.43 374.62,1251.36 375.41,1251.29 376.19,1251.22 376.97,1251.16 377.75,1251.09 378.54,1251.02 379.32,1250.95 380.10,1250.88 380.88,1250.82 381.67,1250.75 382.45,1250.68 383.23,1250.61 384.01,1250.54 384.80,1250.47 385.58,1250.40 386.36,1250.33 387.14,1250.26 387.93,1250.19 388.71,1250.12 389.49,1250.05 390.27,1249.98 391.06,1249.91 391.84,1249.84 392.62,1249.77 393.40,1249.70 394.19,1249.63 394.97,1249.56 395.75,1249.49 396.53,1249.42 397.32,1249.35 398.10,1249.28 398.88,1249.20 399.67,1249.13 400.45,1249.06 401.23,1248.99 402.01,1248.92 402.80,1248.84 403.58,1248.77 404.36,1248.70 405.14,1248.63 405.93,1248.55 406.71,1248.48 407.49,1248.41 408.27,1248.34 409.06,1248.26 409.84,1248.19 410.62,1248.11 411.40,1248.04 412.19,1247.97 412.97,1247.89 413.75,1247.82 414.53,1247.74 415.32,1247.67 416.10,1247.59 416.88,1247.52 417.66,1247.45 418.45,1247.37 419.23,1247.29 420.01,1247.22 420.79,1247.14 421.58,1247.07 422.36,1246.99 423.14,1246.92 423.92,1246.84 424.71,1246.76 425.49,1246.69 426.27,1246.61 427.05,1246.53 427.84,1246.46 428.62,1246.38 429.40,1246.30 430.18,1246.23 430.97,1246.15 431.75,1246.07 432.53,1245.99 433.31,1245.92 434.10,1245.84 434.88,1245.76 435.66,1245.68 436.44,1245.60 437.23,1245.52 438.01,1245.45 438.79,1245.37 439.57,1245.29 440.36,1245.21 441.14,1245.13 441.92,1245.05 442.70,1244.97 443.49,1244.89 444.27,1244.81 445.05,1244.73 445.83,1244.65 446.62,1244.57 447.40,1244.49 448.18,1244.41 448.97,1244.33 449.75,1244.25 450.53,1244.17 451.31,1244.09 452.10,1244.00 452.88,1243.92 453.66,1243.84 454.44,1243.76 455.23,1243.68 456.01,1243.59 456.79,1243.51 457.57,1243.43 458.36,1243.35 459.14,1243.26 459.92,1243.18 460.70,1243.10 461.49,1243.02 462.27,1242.93 463.05,1242.85 463.83,1242.76 464.62,1242.68 465.40,1242.60 466.18,1242.51 466.96,1242.43 467.75,1242.34 468.53,1242.26 469.31,1242.18 470.09,1242.09 470.88,1242.01 471.66,1241.92 472.44,1241.83 473.22,1241.75 474.01,1241.66 474.79,1241.58 475.57,1241.49 476.35,1241.41 477.14,1241.32 477.92,1241.23 478.70,1241.15 479.48,1241.06 480.27,1240.97 481.05,1240.89 481.83,1240.80 482.61,1240.71 483.40,1240.62 484.18,1240.54 484.96,1240.45 485.74,1240.36 486.53,1240.27 487.31,1240.18 488.09,1240.10 488.87,1240.01 489.66,1239.92 490.44,1239.83 491.22,1239.74 492.00,1239.65 492.79,1239.56 493.57,1239.47 494.35,1239.38 495.14,1239.29 495.92,1239.20 496.70,1239.11 497.48,1239.02 498.27,1238.93 499.05,1238.84 499.83,1238.75 500.61,1238.66 501.40,1238.57 502.18,1238.48 502.96,1238.38 503.74,1238.29 504.53,1238.20 505.31,1238.11 506.09,1238.02 506.87,1237.93 507.66,1237.83 508.44,1237.74 509.22,1237.65 510.00,1237.55 510.79,1237.46 511.57,1237.37 512.35,1237.27 513.13,1237.18 513.92,1237.09 514.70,1236.99 515.48,1236.90 516.26,1236.81 517.05,1236.71 517.83,1236.62 518.61,1236.52 519.39,1236.43 520.18,1236.33 520.96,1236.24 521.74,1236.14 522.52,1236.05 523.31,1235.95 524.09,1235.85 524.87,1235.76 525.65,1235.66 526.44,1235.57 527.22,1235.47 528.00,1235.37 528.78,1235.28 529.57,1235.18 530.35,1235.08 531.13,1234.98 531.91,1234.89 532.70,1234.79 533.48,1234.69 534.26,1234.59 535.04,1234.50 535.83,1234.40 536.61,1234.30 537.39,1234.20 538.17,1234.10 538.96,1234.00 539.74,1233.90 540.52,1233.80 541.31,1233.70 542.09,1233.60 542.87,1233.50 543.65,1233.40 544.44,1233.30 545.22,1233.20 546.00,1233.10 546.78,1233.00 547.57,1232.90 548.35,1232.80 549.13,1232.70 549.91,1232.60 550.70,1232.50 551.48,1232.39 552.26,1232.29 553.04,1232.19 553.83,1232.09 554.61,1231.99 555.39,1231.88 556.17,1231.78 556.96,1231.68 557.74,1231.58 558.52,1231.47 559.30,1231.37 560.09,1231.27 560.87,1231.16 561.65,1231.06 562.43,1230.95 563.22,1230.85 564.00,1230.74 564.78,1230.64 565.56,1230.54 566.35,1230.43 567.13,1230.33 567.91,1230.22 568.69,1230.11 569.48,1230.01 570.26,1229.90 571.04,1229.80 571.82,1229.69 572.61,1229.58 573.39,1229.48 574.17,1229.37 574.95,1229.26 575.74,1229.16 576.52,1229.05 577.30,1228.94 578.08,1228.84 578.87,1228.73 579.65,1228.62 580.43,1228.51 581.21,1228.40 582.00,1228.29 582.78,1228.19 583.56,1228.08 584.34,1227.97 585.13,1227.86 585.91,1227.75 586.69,1227.64 587.48,1227.53 588.26,1227.42 589.04,1227.31 589.82,1227.20 590.61,1227.09 591.39,1226.98 592.17,1226.87 592.95,1226.76 593.74,1226.65 594.52,1226.54 595.30,1226.42 596.08,1226.31 596.87,1226.20 597.65,1226.09 598.43,1225.98 599.21,1225.86 600.00,1225.75 600.78,1225.64 601.56,1225.53 602.34,1225.41 603.13,1225.30 603.91,1225.19 604.69,1225.07 605.47,1224.96 606.26,1224.84 607.04,1224.73 607.82,1224.62 608.60,1224.50 609.39,1224.39 610.17,1224.27 610.95,1224.16 611.73,1224.04 612.52,1223.93 613.30,1223.81 614.08,1223.69 614.86,1223.58 615.65,1223.46 616.43,1223.35 617.21,1223.23 617.99,1223.11 618.78,1223.00 619.56,1222.88 620.34,1222.76 621.12,1222.64 621.91,1222.53 622.69,1222.41 623.47,1222.29 624.25,1222.17 625.04,1222.05 625.82,1221.94 626.60,1221.82 627.38,1221.70 628.17,1221.58 628.95,1221.46 629.73,1221.34 630.51,1221.22 631.30,1221.10 632.08,1220.98 632.86,1220.86 633.64,1220.74 634.43,1220.62 635.21,1220.50 635.99,1220.38 636.78,1220.26 637.56,1220.14 638.34,1220.01 639.12,1219.89 639.91,1219.77 640.69,1219.65 641.47,1219.53 642.25,1219.40 643.04,1219.28 643.82,1219.16 644.60,1219.03 645.38,1218.91 646.17,1218.79 646.95,1218.66 647.73,1218.54 648.51,1218.42 649.30,1218.29 650.08,1218.17 650.86,1218.04 651.64,1217.92 652.43,1217.79 653.21,1217.67 653.99,1217.54 654.77,1217.42 655.56,1217.29 656.34,1217.17 657.12,1217.04 657.90,1216.91 658.69,1216.79 659.47,1216.66 660.25,1216.53 661.03,1216.41 661.82,1216.28 662.60,1216.15 663.38,1216.02 664.16,1215.90 664.95,1215.77 665.73,1215.64 666.51,1215.51 667.29,1215.38 668.08,1215.25 668.86,1215.13 669.64,1215.00 670.42,1214.87 671.21,1214.74 671.99,1214.61 672.77,1214.48 673.55,1214.35 674.34,1214.22 675.12,1214.09 675.90,1213.96 676.68,1213.83 677.47,1213.69 678.25,1213.56 679.03,1213.43 679.81,1213.30 680.60,1213.17 681.38,1213.04 682.16,1212.90 682.95,1212.77 683.73,1212.64 684.51,1212.51 685.29,1212.37 686.08,1212.24 686.86,1212.11 687.64,1211.97 688.42,1211.84 689.21,1211.70 689.99,1211.57 690.77,1211.44 691.55,1211.30 692.34,1211.17 693.12,1211.03 693.90,1210.90 694.68,1210.76 695.47,1210.62 696.25,1210.49 697.03,1210.35 697.81,1210.22 698.60,1210.08 699.38,1209.94 700.16,1209.81 700.94,1209.67 701.73,1209.53 702.51,1209.39 703.29,1209.26 704.07,1209.12 704.86,1208.98 705.64,1208.84 706.42,1208.70 707.20,1208.57 707.99,1208.43 708.77,1208.29 709.55,1208.15 710.33,1208.01 711.12,1207.87 711.90,1207.73 712.68,1207.59 713.46,1207.45 714.25,1207.31 715.03,1207.17 715.81,1207.03 716.59,1206.89 717.38,1206.74 718.16,1206.60 718.94,1206.46 719.72,1206.32 720.51,1206.18 721.29,1206.04 722.07,1205.89 722.85,1205.75 723.64,1205.61 724.42,1205.46 725.20,1205.32 725.98,1205.18 726.77,1205.03 727.55,1204.89 728.33,1204.75 729.12,1204.60 729.90,1204.46 730.68,1204.31 731.46,1204.17 732.25,1204.02 733.03,1203.88 733.81,1203.73 734.59,1203.58 735.38,1203.44 736.16,1203.29 736.94,1203.15 737.72,1203.00 738.51,1202.85 739.29,1202.71 740.07,1202.56 740.85,1202.41 741.64,1202.26 742.42,1202.12 743.20,1201.97 743.98,1201.82 744.77,1201.67 745.55,1201.52 746.33,1201.37 747.11,1201.22 747.90,1201.07 748.68,1200.92 749.46,1200.78 750.24,1200.63 751.03,1200.47 751.81,1200.32 752.59,1200.17 753.37,1200.02 754.16,1199.87 754.94,1199.72 755.72,1199.57 756.50,1199.42 757.29,1199.27 758.07,1199.11 758.85,1198.96 759.63,1198.81 760.42,1198.66 761.20,1198.50 761.98,1198.35 762.76,1198.20 763.55,1198.04 764.33,1197.89 765.11,1197.74 765.89,1197.58 766.68,1197.43 767.46,1197.27 768.24,1197.12 769.02,1196.96 769.81,1196.81 770.59,1196.65 771.37,1196.50 772.15,1196.34 772.94,1196.18 773.72,1196.03 774.50,1195.87 775.29,1195.71 776.07,1195.56 776.85,1195.40 777.63,1195.24 778.42,1195.08 779.20,1194.93 779.98,1194.77 780.76,1194.61 781.55,1194.45 782.33,1194.29 783.11,1194.13 783.89,1193.98 784.68,1193.82 785.46,1193.66 786.24,1193.50 787.02,1193.34 787.81,1193.18 788.59,1193.02 789.37,1192.85 790.15,1192.69 790.94,1192.53 791.72,1192.37 792.50,1192.21 793.28,1192.05 794.07,1191.89 794.85,1191.72 795.63,1191.56 796.41,1191.40 797.20,1191.24 797.98,1191.07 798.76,1190.91 799.54,1190.75 800.33,1190.58 801.11,1190.42 801.89,1190.25 802.67,1190.09 803.46,1189.93 804.24,1189.76 805.02,1189.60 805.80,1189.43 806.59,1189.26 807.37,1189.10 808.15,1188.93 808.93,1188.77 809.72,1188.60 810.50,1188.43 811.28,1188.27 812.06,1188.10 812.85,1187.93 813.63,1187.76 814.41,1187.60 815.19,1187.43 815.98,1187.26 816.76,1187.09 817.54,1186.92 818.32,1186.75 819.11,1186.59 819.89,1186.42 820.67,1186.25 821.45,1186.08 822.24,1185.91 823.02,1185.74 823.80,1185.57 824.59,1185.40 825.37,1185.22 826.15,1185.05 826.93,1184.88 827.72,1184.71 828.50,1184.54 829.28,1184.37 830.06,1184.19 830.85,1184.02 831.63,1183.85 832.41,1183.68 833.19,1183.50 833.98,1183.33 834.76,1183.16 835.54,1182.98 836.32,1182.81 837.11,1182.63 837.89,1182.46 838.67,1182.29 839.45,1182.11 840.24,1181.94 841.02,1181.76 841.80,1181.58 842.58,1181.41 843.37,1181.23 844.15,1181.06 844.93,1180.88 845.71,1180.70 846.50,1180.53 847.28,1180.35 848.06,1180.17 848.84,1179.99 849.63,1179.81 850.41,1179.64 851.19,1179.46 851.97,1179.28 852.76,1179.10 853.54,1178.92 854.32,1178.74 855.10,1178.56 855.89,1178.38 856.67,1178.20 857.45,1178.02 858.23,1177.84 859.02,1177.66 859.80,1177.48 860.58,1177.30 861.36,1177.12 862.15,1176.94 862.93,1176.75 863.71,1176.57 864.49,1176.39 865.28,1176.21 866.06,1176.02 866.84,1175.84 867.62,1175.66 868.41,1175.47 869.19,1175.29 869.97,1175.11 870.76,1174.92 871.54,1174.74 872.32,1174.55 873.10,1174.37 873.89,1174.18 874.67,1174.00 875.45,1173.81 876.23,1173.63 877.02,1173.44 877.80,1173.25 878.58,1173.07 879.36,1172.88 880.15,1172.69 880.93,1172.51 881.71,1172.32 882.49,1172.13 883.28,1171.94 884.06,1171.75 884.84,1171.57 885.62,1171.38 886.41,1171.19 887.19,1171.00 887.97,1170.81 888.75,1170.62 889.54,1170.43 890.32,1170.24 891.10,1170.05 891.88,1169.86 892.67,1169.67 893.45,1169.48 894.23,1169.29 895.01,1169.09 895.80,1168.90 896.58,1168.71 897.36,1168.52 898.14,1168.33 898.93,1168.13 899.71,1167.94 900.49,1167.75 901.27,1167.55 902.06,1167.36 902.84,1167.17 903.62,1166.97 904.40,1166.78 905.19,1166.58 905.97,1166.39 906.75,1166.19 907.53,1166.00 908.32,1165.80 909.10,1165.61 909.88,1165.41 910.66,1165.21 911.45,1165.02 912.23,1164.82 913.01,1164.62 913.79,1164.42 914.58,1164.23 915.36,1164.03 916.14,1163.83 916.93,1163.63 917.71,1163.43 918.49,1163.24 919.27,1163.04 920.06,1162.84 920.84,1162.64 921.62,1162.44 922.40,1162.24 923.19,1162.04 923.97,1161.84 924.75,1161.64 925.53,1161.43 926.32,1161.23 927.10,1161.03 927.88,1160.83 928.66,1160.63 929.45,1160.43 930.23,1160.22 931.01,1160.02 931.79,1159.82 932.58,1159.61 933.36,1159.41 934.14,1159.21 934.92,1159.00 935.71,1158.80 936.49,1158.59 937.27,1158.39 938.05,1158.18 938.84,1157.98 939.62,1157.77 940.40,1157.57 941.18,1157.36 941.97,1157.16 942.75,1156.95 943.53,1156.74 944.31,1156.54 945.10,1156.33 945.88,1156.12 946.66,1155.91 947.44,1155.71 948.23,1155.50 949.01,1155.29 949.79,1155.08 950.57,1154.87 951.36,1154.66 952.14,1154.45 952.92,1154.24 953.70,1154.03 954.49,1153.82 955.27,1153.61 956.05,1153.40 956.83,1153.19 957.62,1152.98 958.40,1152.77 959.18,1152.56 959.96,1152.34 960.75,1152.13 961.53,1151.92 962.31,1151.71 963.10,1151.49 963.88,1151.28 964.66,1151.07 965.44,1150.85 966.23,1150.64 967.01,1150.42 967.79,1150.21 968.57,1149.99 969.36,1149.78 970.14,1149.56 970.92,1149.35 971.70,1149.13 972.49,1148.92 973.27,1148.70 974.05,1148.48 974.83,1148.27 975.62,1148.05 976.40,1147.83 977.18,1147.62 977.96,1147.40 978.75,1147.18 979.53,1146.96 980.31,1146.74 981.09,1146.52 981.88,1146.30 982.66,1146.08 983.44,1145.87 984.22,1145.65 985.01,1145.43 985.79,1145.20 986.57,1144.98 987.35,1144.76 988.14,1144.54 988.92,1144.32 989.70,1144.10 990.48,1143.88 991.27,1143.65 992.05,1143.43 992.83,1143.21 993.61,1142.99 994.40,1142.76 995.18,1142.54 995.96,1142.32 996.74,1142.09 997.53,1141.87 998.31,1141.64 999.09,1141.42 999.87,1141.19 1000.66,1140.97 1001.44,1140.74 1002.22,1140.52 1003.00,1140.29 1003.79,1140.06 1004.57,1139.84 1005.35,1139.61 1006.13,1139.38 1006.92,1139.16 1007.70,1138.93 1008.48,1138.70 1009.26,1138.47 1010.05,1138.24 1010.83,1138.01 1011.61,1137.79 1012.40,1137.56 1013.18,1137.33 1013.96,1137.10 1014.74,1136.87 1015.53,1136.64 1016.31,1136.41 1017.09,1136.17 1017.87,1135.94 1018.66,1135.71 1019.44,1135.48 1020.22,1135.25 1021.00,1135.02 1021.79,1134.78 1022.57,1134.55 1023.35,1134.32 1024.13,1134.08 1024.92,1133.85 1025.70,1133.62 1026.48,1133.38 1027.26,1133.15 1028.05,1132.91 1028.83,1132.68 1029.61,1132.44 1030.39,1132.21 1031.18,1131.97 1031.96,1131.74 1032.74,1131.50 1033.52,1131.27 1034.31,1131.03 1035.09,1130.79 1035.87,1130.55 1036.65,1130.32 1037.44,1130.08 1038.22,1129.84 1039.00,1129.60 1039.78,1129.36 1040.57,1129.13 1041.35,1128.89 1042.13,1128.65 1042.91,1128.41 1043.70,1128.17 1044.48,1127.93 1045.26,1127.69 1046.04,1127.45 1046.83,1127.20 1047.61,1126.96 1048.39,1126.72 1049.17,1126.48 1049.96,1126.24 1050.74,1126.00 1051.52,1125.75 1052.30,1125.51 1053.09,1125.27 1053.87,1125.02 1054.65,1124.78 1055.43,1124.54 1056.22,1124.29 1057.00,1124.05"/>
</g>
<rect x="148.2" y="954.40" width="367.70" height="146.6" fill="#fff" stroke="#262626" stroke-width="1.8"/>
<line x1="159" y1="981.60" x2="270.2" y2="981.60" stroke="#1a00cc" stroke-width="5.5"/>
<line x1="159" y1="1027.45" x2="270.2" y2="1027.45" stroke="#cc001a" stroke-width="5.5"/>
<line x1="159" y1="1073.50" x2="270.2" y2="1073.50" stroke="#cc1acc" stroke-width="5.5"/>
<text transform="translate(108.68,686.20) scale(0.9852,1.0000)" font-size="34.8" fill="#262626">0</text>
<text transform="translate(283.35,686.20) scale(1.0101,1.0000)" font-size="34.8" fill="#262626">0.2</text>
<text transform="translate(471.21,686.20) scale(0.9763,1.0000)" font-size="34.8" fill="#262626">0.4</text>
<text transform="translate(659.00,686.20) scale(0.9887,1.0000)" font-size="34.8" fill="#262626">0.6</text>
<text transform="translate(846.80,686.20) scale(0.9972,1.0000)" font-size="34.8" fill="#262626">0.8</text>
<text transform="translate(1048.14,686.20) scale(0.9770,1.0000)" font-size="34.8" fill="#262626">1</text>
<text transform="translate(90.53,655.90) scale(0.9852,1.0000)" font-size="34.8" fill="#262626">0</text>
<text transform="translate(64.29,529.02) scale(1.0101,1.0000)" font-size="34.8" fill="#262626">0.2</text>
<text transform="translate(64.34,402.14) scale(0.9763,1.0000)" font-size="34.8" fill="#262626">0.4</text>
<text transform="translate(64.32,275.26) scale(0.9887,1.0000)" font-size="34.8" fill="#262626">0.6</text>
<text transform="translate(64.31,148.38) scale(0.9972,1.0000)" font-size="34.8" fill="#262626">0.8</text>
<text transform="translate(90.04,21.50) scale(0.9770,1.0000)" font-size="34.8" fill="#262626">1</text>
<text transform="translate(277.88,77.20) scale(1.0300,1.0000)" font-size="36.8" fill="#000" letter-spacing="1.506">Constant</text>
<text transform="translate(281.04,122.80) scale(1.0300,1.0000)" font-size="36.8" fill="#000" letter-spacing="0.461">Trigonometric</text>
<text transform="translate(278.26,169.40) scale(1.0300,1.0000)" font-size="36.8" fill="#000" letter-spacing="1.994">Ramp</text>
<text transform="translate(580.77,730.88) scale(1.1000,1.1058)" font-size="37.6" fill="#262626" font-style="italic">t</text>
<text transform="rotate(-90) translate(-368.09,44.80) scale(1.0937,1.0000)" font-size="37.6" fill="#262626" font-style="italic">x</text>
<text transform="rotate(-90) translate(-348.00,38.39) scale(0.8000,1.0046)" font-size="30" fill="#262626">*</text>
<text transform="rotate(-90) translate(-331.10,44.80) scale(0.7937,1.0000)" font-size="42" fill="#262626">(</text>
<text transform="rotate(-90) translate(-320.13,44.68) scale(1.1000,1.1198)" font-size="37.6" fill="#262626" font-style="italic">t</text>
<text transform="rotate(-90) translate(-304.57,44.80) scale(0.7692,1.0000)" font-size="42" fill="#262626">)</text>
<text transform="translate(62.84,803.50) scale(0.9176,1.0000)" font-size="50" fill="#000">(</text>
<text transform="translate(79.63,803.50) scale(1.0180,1.0000)" font-size="47" fill="#000">a</text>
<text transform="translate(104.95,803.50) scale(0.9000,1.0000)" font-size="50" fill="#000">)</text>
<text transform="translate(137.33,803.50) scale(0.9962,1.0000)" font-size="47" fill="#000">Value</text>
<text transform="translate(263.09,803.50) scale(1.0170,1.0000)" font-size="47" fill="#000">of</text>
<text transform="translate(317.32,803.50) scale(1.0300,1.0000)" font-size="47" fill="#000" letter-spacing="2.727">the</text>
<text transform="translate(397.42,803.50) scale(1.0300,1.0000)" font-size="47" fill="#000" letter-spacing="1.118">transition</text>
<text transform="translate(605.26,803.50) scale(1.0300,1.0000)" font-size="47" fill="#000" letter-spacing="0.921">coordinate</text>
<text transform="translate(834.11,803.50) scale(1.0949,1.0000)" font-size="47" fill="#000" font-style="italic">x</text>
<text transform="translate(858.11,798.94) scale(1.0938,1.0822)" font-size="40" fill="#000">*</text>
<text transform="translate(893.38,807.55) scale(1.4139,0.8766)" font-size="47" fill="#000">=</text>
<text transform="translate(945.11,803.50) scale(1.0758,1.0000)" font-size="47" fill="#000" font-style="italic">x</text>
<text transform="translate(969.11,798.94) scale(1.0938,1.0822)" font-size="40" fill="#000">*</text>
<text transform="translate(994.76,803.50) scale(0.8627,1.0000)" font-size="50" fill="#000">(</text>
<text transform="translate(1010.66,803.50) scale(1.1000,1.0601)" font-size="47" fill="#000" font-style="italic">t</text>
<text transform="translate(1028.18,803.50) scale(0.8769,1.0000)" font-size="50" fill="#000">)</text>
<text transform="translate(1044.79,803.50) scale(1.1000,1.0000)" font-size="47" fill="#000">.</text>
<text transform="translate(108.68,1599.90) scale(0.9852,1.0000)" font-size="34.8" fill="#262626">0</text>
<text transform="translate(283.35,1599.90) scale(1.0101,1.0000)" font-size="34.8" fill="#262626">0.2</text>
<text transform="translate(471.21,1599.90) scale(0.9763,1.0000)" font-size="34.8" fill="#262626">0.4</text>
<text transform="translate(659.00,1599.90) scale(0.9887,1.0000)" font-size="34.8" fill="#262626">0.6</text>
<text transform="translate(846.80,1599.90) scale(0.9972,1.0000)" font-size="34.8" fill="#262626">0.8</text>
<text transform="translate(1048.14,1599.90) scale(0.9770,1.0000)" font-size="34.8" fill="#262626">1</text>
<text transform="translate(90.53,1569.60) scale(0.9852,1.0000)" font-size="34.8" fill="#262626">0</text>
<text transform="translate(47.92,1442.68) scale(0.9897,1.0000)" font-size="34.8" fill="#262626">0.02</text>
<text transform="translate(47.95,1315.76) scale(0.9663,1.0000)" font-size="34.8" fill="#262626">0.04</text>
<text transform="translate(47.94,1188.84) scale(0.9750,1.0000)" font-size="34.8" fill="#262626">0.06</text>
<text transform="translate(47.93,1061.92) scale(0.9808,1.0000)" font-size="34.8" fill="#262626">0.08</text>
<text transform="translate(64.13,935.00) scale(0.9870,1.0000)" font-size="34.8" fill="#262626">0.1</text>
<text transform="translate(277.88,990.70) scale(1.0300,1.0000)" font-size="36.8" fill="#000" letter-spacing="1.506">Constant</text>
<text transform="translate(281.04,1036.30) scale(1.0300,1.0000)" font-size="36.8" fill="#000" letter-spacing="0.461">Trigonometric</text>
<text transform="translate(278.26,1082.90) scale(1.0300,1.0000)" font-size="36.8" fill="#000" letter-spacing="1.994">Ramp</text>
<text transform="translate(578.80,1645.00) scale(1.0758,0.9703)" font-size="37.6" fill="#262626" font-style="italic">x</text>
<text transform="rotate(-90) translate(-1346.95,27.70) scale(1.1000,1.0000)" font-size="37.6" fill="#262626" font-style="italic">u</text>
<text transform="rotate(-90) translate(-1324.52,27.70) scale(0.9617,1.0000)" font-size="42" fill="#262626">(</text>
<text transform="rotate(-90) translate(-1310.71,27.70) scale(1.0399,1.0000)" font-size="37.6" fill="#262626" font-style="italic">x</text>
<text transform="rotate(-90) translate(-1288.76,28.33) scale(0.9721,1.1473)" font-size="37.6" fill="#262626">,</text>
<text transform="rotate(-90) translate(-1275.58,27.60) scale(1.1000,1.0638)" font-size="37.6" fill="#262626" font-style="italic">t</text>
<text transform="rotate(-90) translate(-1250.53,29.03) scale(1.4013,0.8085)" font-size="37.6" fill="#262626">=</text>
<text transform="rotate(-90) translate(-1212.84,27.70) scale(1.0306,1.0000)" font-size="37.6" fill="#262626">2</text>
<text transform="rotate(-90) translate(-1189.80,36.24) scale(1.3733,1.4918)" font-size="37.6" fill="#262626">/</text>
<text transform="rotate(-90) translate(-1174.13,27.70) scale(0.9211,1.0000)" font-size="37.6" fill="#262626">3</text>
<text transform="rotate(-90) translate(-1154.97,27.70) scale(1.0073,1.0000)" font-size="42" fill="#262626">)</text>
<text transform="translate(296.89,1692.30) scale(0.8941,1.0000)" font-size="50" fill="#000">(</text>
<text transform="translate(315.40,1692.30) scale(0.9991,1.0000)" font-size="47" fill="#000">b</text>
<text transform="translate(340.67,1692.30) scale(0.8846,1.0000)" font-size="50" fill="#000">)</text>
<text transform="translate(373.22,1692.30) scale(0.9995,1.0000)" font-size="47" fill="#000">Cell</text>
<text transform="translate(468.40,1692.30) scale(0.9975,1.0000)" font-size="47" fill="#000">profile</text>
<text transform="translate(607.81,1692.30) scale(1.0300,1.0000)" font-size="47" fill="#000" letter-spacing="3.380">at</text>
<text transform="translate(663.36,1692.28) scale(1.1000,1.1124)" font-size="47" fill="#000" font-style="italic">t</text>
<text transform="translate(693.05,1695.57) scale(1.4276,0.9106)" font-size="47" fill="#000">=</text>
<text transform="translate(742.12,1692.30) scale(0.9840,1.0000)" font-size="47" fill="#000">2</text>
<text transform="translate(768.30,1703.81) scale(1.4159,1.4654)" font-size="47" fill="#000">/</text>
<text transform="translate(787.58,1692.30) scale(0.9860,1.0000)" font-size="47" fill="#000">3</text>
<text transform="translate(811.20,1692.30) scale(1.0816,1.0000)" font-size="47" fill="#000">.</text>
</svg></body></html>
